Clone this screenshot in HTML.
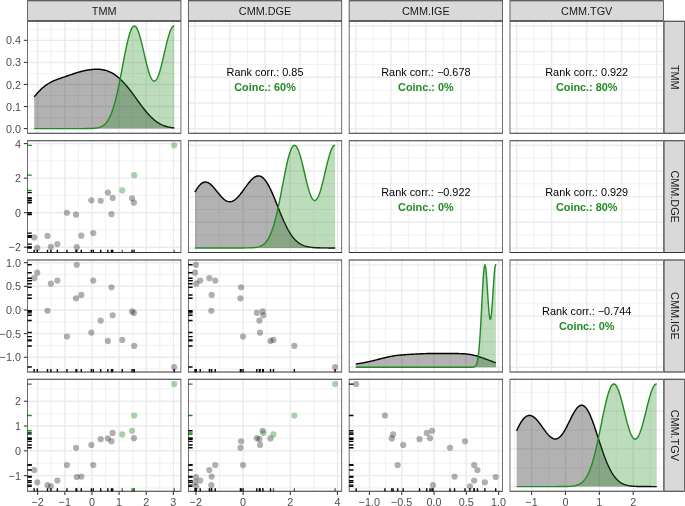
<!DOCTYPE html>
<html><head><meta charset="utf-8"><title>Pairs plot</title>
<style>html,body{margin:0;padding:0;background:#fff;}body{width:685px;height:506px;overflow:hidden;font-family:"Liberation Sans", sans-serif;}svg text{font-family:"Liberation Sans", sans-serif;}</style>
</head><body>
<svg width="685" height="506" viewBox="0 0 685 506" style="display:block;will-change:transform">
<rect x="0" y="0" width="685" height="506" fill="#fff"/>
<defs>
<clipPath id="cp00"><rect x="27.150" y="20.850" width="154.150" height="112.880"/></clipPath>
<clipPath id="cp01"><rect x="187.970" y="20.850" width="154.150" height="112.880"/></clipPath>
<clipPath id="cp02"><rect x="348.790" y="20.850" width="154.150" height="112.880"/></clipPath>
<clipPath id="cp03"><rect x="509.610" y="20.850" width="154.150" height="112.880"/></clipPath>
<clipPath id="cp10"><rect x="27.150" y="140.180" width="154.150" height="112.880"/></clipPath>
<clipPath id="cp11"><rect x="187.970" y="140.180" width="154.150" height="112.880"/></clipPath>
<clipPath id="cp12"><rect x="348.790" y="140.180" width="154.150" height="112.880"/></clipPath>
<clipPath id="cp13"><rect x="509.610" y="140.180" width="154.150" height="112.880"/></clipPath>
<clipPath id="cp20"><rect x="27.150" y="259.510" width="154.150" height="112.880"/></clipPath>
<clipPath id="cp21"><rect x="187.970" y="259.510" width="154.150" height="112.880"/></clipPath>
<clipPath id="cp22"><rect x="348.790" y="259.510" width="154.150" height="112.880"/></clipPath>
<clipPath id="cp23"><rect x="509.610" y="259.510" width="154.150" height="112.880"/></clipPath>
<clipPath id="cp30"><rect x="27.150" y="378.840" width="154.150" height="112.880"/></clipPath>
<clipPath id="cp31"><rect x="187.970" y="378.840" width="154.150" height="112.880"/></clipPath>
<clipPath id="cp32"><rect x="348.790" y="378.840" width="154.150" height="112.880"/></clipPath>
<clipPath id="cp33"><rect x="509.610" y="378.840" width="154.150" height="112.880"/></clipPath>
</defs>
<g clip-path="url(#cp00)">
<path d="M51.26,20.85v112.88M78.39,20.85v112.88M105.52,20.85v112.88M132.65,20.85v112.88M159.78,20.85v112.88M27.15,117.57h154.15M27.15,95.51h154.15M27.15,73.45h154.15M27.15,51.39h154.15M27.15,29.33h154.15" stroke="#EBEBEB" stroke-width="0.71" fill="none"/>
<path d="M37.70,20.85v112.88M64.83,20.85v112.88M91.96,20.85v112.88M119.09,20.85v112.88M146.21,20.85v112.88M173.34,20.85v112.88M27.15,128.60h154.15M27.15,106.54h154.15M27.15,84.48h154.15M27.15,62.42h154.15M27.15,40.36h154.15" stroke="#EBEBEB" stroke-width="1.42" fill="none"/>
<polygon points="34.16,96.90 34.98,95.90 35.80,94.92 36.62,93.97 37.45,93.04 38.27,92.14 39.09,91.27 39.92,90.42 40.74,89.61 41.56,88.83 42.38,88.08 43.21,87.36 44.03,86.68 44.85,86.03 45.67,85.41 46.50,84.83 47.32,84.27 48.14,83.74 48.97,83.24 49.79,82.77 50.61,82.33 51.43,81.90 52.26,81.50 53.08,81.12 53.90,80.75 54.72,80.41 55.55,80.07 56.37,79.75 57.19,79.44 58.02,79.13 58.84,78.84 59.66,78.55 60.48,78.26 61.31,77.98 62.13,77.70 62.95,77.41 63.77,77.13 64.60,76.85 65.42,76.57 66.24,76.29 67.07,76.01 67.89,75.72 68.71,75.44 69.53,75.16 70.36,74.87 71.18,74.59 72.00,74.31 72.82,74.03 73.65,73.75 74.47,73.48 75.29,73.21 76.12,72.94 76.94,72.68 77.76,72.43 78.58,72.18 79.41,71.95 80.23,71.71 81.05,71.49 81.87,71.28 82.70,71.07 83.52,70.88 84.34,70.69 85.17,70.52 85.99,70.35 86.81,70.20 87.63,70.05 88.46,69.92 89.28,69.79 90.10,69.68 90.92,69.58 91.75,69.49 92.57,69.42 93.39,69.35 94.22,69.30 95.04,69.27 95.86,69.25 96.68,69.24 97.51,69.25 98.33,69.27 99.15,69.32 99.97,69.38 100.80,69.46 101.62,69.56 102.44,69.68 103.27,69.83 104.09,70.00 104.91,70.19 105.73,70.41 106.56,70.65 107.38,70.92 108.20,71.22 109.02,71.55 109.85,71.91 110.67,72.30 111.49,72.72 112.32,73.17 113.14,73.65 113.96,74.16 114.78,74.71 115.61,75.28 116.43,75.89 117.25,76.53 118.07,77.20 118.90,77.91 119.72,78.64 120.54,79.41 121.36,80.20 122.19,81.02 123.01,81.88 123.83,82.76 124.66,83.66 125.48,84.60 126.30,85.55 127.12,86.53 127.95,87.54 128.77,88.56 129.59,89.60 130.41,90.67 131.24,91.74 132.06,92.84 132.88,93.94 133.71,95.05 134.53,96.18 135.35,97.31 136.17,98.44 137.00,99.58 137.82,100.71 138.64,101.84 139.46,102.97 140.29,104.09 141.11,105.20 141.93,106.30 142.76,107.38 143.58,108.45 144.40,109.49 145.22,110.52 146.05,111.52 146.87,112.50 147.69,113.45 148.51,114.37 149.34,115.27 150.16,116.13 150.98,116.96 151.81,117.76 152.63,118.52 153.45,119.25 154.27,119.95 155.10,120.61 155.92,121.24 156.74,121.83 157.56,122.39 158.39,122.91 159.21,123.41 160.03,123.87 160.86,124.30 161.68,124.70 162.50,125.07 163.32,125.41 164.15,125.73 164.97,126.02 165.79,126.29 166.61,126.53 167.44,126.75 168.26,126.96 169.08,127.14 169.91,127.31 170.73,127.46 171.55,127.59 172.37,127.72 173.20,127.82 174.02,127.92 174.29,127.95 174.29,128.60 34.16,128.60" fill="#000" fill-opacity="0.3"/>
<polyline points="34.16,96.90 34.98,95.90 35.80,94.92 36.62,93.97 37.45,93.04 38.27,92.14 39.09,91.27 39.92,90.42 40.74,89.61 41.56,88.83 42.38,88.08 43.21,87.36 44.03,86.68 44.85,86.03 45.67,85.41 46.50,84.83 47.32,84.27 48.14,83.74 48.97,83.24 49.79,82.77 50.61,82.33 51.43,81.90 52.26,81.50 53.08,81.12 53.90,80.75 54.72,80.41 55.55,80.07 56.37,79.75 57.19,79.44 58.02,79.13 58.84,78.84 59.66,78.55 60.48,78.26 61.31,77.98 62.13,77.70 62.95,77.41 63.77,77.13 64.60,76.85 65.42,76.57 66.24,76.29 67.07,76.01 67.89,75.72 68.71,75.44 69.53,75.16 70.36,74.87 71.18,74.59 72.00,74.31 72.82,74.03 73.65,73.75 74.47,73.48 75.29,73.21 76.12,72.94 76.94,72.68 77.76,72.43 78.58,72.18 79.41,71.95 80.23,71.71 81.05,71.49 81.87,71.28 82.70,71.07 83.52,70.88 84.34,70.69 85.17,70.52 85.99,70.35 86.81,70.20 87.63,70.05 88.46,69.92 89.28,69.79 90.10,69.68 90.92,69.58 91.75,69.49 92.57,69.42 93.39,69.35 94.22,69.30 95.04,69.27 95.86,69.25 96.68,69.24 97.51,69.25 98.33,69.27 99.15,69.32 99.97,69.38 100.80,69.46 101.62,69.56 102.44,69.68 103.27,69.83 104.09,70.00 104.91,70.19 105.73,70.41 106.56,70.65 107.38,70.92 108.20,71.22 109.02,71.55 109.85,71.91 110.67,72.30 111.49,72.72 112.32,73.17 113.14,73.65 113.96,74.16 114.78,74.71 115.61,75.28 116.43,75.89 117.25,76.53 118.07,77.20 118.90,77.91 119.72,78.64 120.54,79.41 121.36,80.20 122.19,81.02 123.01,81.88 123.83,82.76 124.66,83.66 125.48,84.60 126.30,85.55 127.12,86.53 127.95,87.54 128.77,88.56 129.59,89.60 130.41,90.67 131.24,91.74 132.06,92.84 132.88,93.94 133.71,95.05 134.53,96.18 135.35,97.31 136.17,98.44 137.00,99.58 137.82,100.71 138.64,101.84 139.46,102.97 140.29,104.09 141.11,105.20 141.93,106.30 142.76,107.38 143.58,108.45 144.40,109.49 145.22,110.52 146.05,111.52 146.87,112.50 147.69,113.45 148.51,114.37 149.34,115.27 150.16,116.13 150.98,116.96 151.81,117.76 152.63,118.52 153.45,119.25 154.27,119.95 155.10,120.61 155.92,121.24 156.74,121.83 157.56,122.39 158.39,122.91 159.21,123.41 160.03,123.87 160.86,124.30 161.68,124.70 162.50,125.07 163.32,125.41 164.15,125.73 164.97,126.02 165.79,126.29 166.61,126.53 167.44,126.75 168.26,126.96 169.08,127.14 169.91,127.31 170.73,127.46 171.55,127.59 172.37,127.72 173.20,127.82 174.02,127.92 174.29,127.95" fill="none" stroke="#000" stroke-width="1.42" stroke-linejoin="round"/>
<polygon points="34.16,128.60 34.98,128.60 35.80,128.60 36.62,128.60 37.45,128.60 38.27,128.60 39.09,128.60 39.92,128.60 40.74,128.60 41.56,128.60 42.38,128.60 43.21,128.60 44.03,128.60 44.85,128.60 45.67,128.60 46.50,128.60 47.32,128.60 48.14,128.60 48.97,128.60 49.79,128.60 50.61,128.60 51.43,128.60 52.26,128.60 53.08,128.60 53.90,128.60 54.72,128.60 55.55,128.60 56.37,128.60 57.19,128.60 58.02,128.60 58.84,128.60 59.66,128.60 60.48,128.60 61.31,128.60 62.13,128.60 62.95,128.60 63.77,128.60 64.60,128.60 65.42,128.60 66.24,128.60 67.07,128.60 67.89,128.60 68.71,128.60 69.53,128.60 70.36,128.60 71.18,128.60 72.00,128.60 72.82,128.60 73.65,128.60 74.47,128.60 75.29,128.60 76.12,128.60 76.94,128.60 77.76,128.60 78.58,128.60 79.41,128.60 80.23,128.60 81.05,128.60 81.87,128.59 82.70,128.59 83.52,128.59 84.34,128.59 85.17,128.58 85.99,128.58 86.81,128.57 87.63,128.56 88.46,128.55 89.28,128.54 90.10,128.52 90.92,128.49 91.75,128.46 92.57,128.42 93.39,128.37 94.22,128.30 95.04,128.23 95.86,128.13 96.68,128.01 97.51,127.86 98.33,127.68 99.15,127.46 99.97,127.19 100.80,126.88 101.62,126.50 102.44,126.05 103.27,125.52 104.09,124.89 104.91,124.17 105.73,123.33 106.56,122.36 107.38,121.25 108.20,119.98 109.02,118.54 109.85,116.92 110.67,115.11 111.49,113.10 112.32,110.87 113.14,108.42 113.96,105.75 114.78,102.85 115.61,99.73 116.43,96.39 117.25,92.84 118.07,89.10 118.90,85.18 119.72,81.10 120.54,76.90 121.36,72.61 122.19,68.26 123.01,63.89 123.83,59.55 124.66,55.28 125.48,51.13 126.30,47.15 127.12,43.39 127.95,39.89 128.77,36.70 129.59,33.86 130.41,31.42 131.24,29.40 132.06,27.83 132.88,26.73 133.71,26.12 134.53,26.00 135.35,26.36 136.17,27.21 137.00,28.52 137.82,30.26 138.64,32.40 139.46,34.90 140.29,37.72 141.11,40.81 141.93,44.11 142.76,47.56 143.58,51.11 144.40,54.69 145.22,58.25 146.05,61.72 146.87,65.05 147.69,68.19 148.51,71.08 149.34,73.67 150.16,75.93 150.98,77.82 151.81,79.31 152.63,80.38 153.45,81.01 154.27,81.19 155.10,80.92 155.92,80.21 156.74,79.05 157.56,77.48 158.39,75.51 159.21,73.18 160.03,70.53 160.86,67.59 161.68,64.41 162.50,61.05 163.32,57.56 164.15,53.99 164.97,50.41 165.79,46.87 166.61,43.45 167.44,40.18 168.26,37.14 169.08,34.38 169.91,31.95 170.73,29.88 171.55,28.22 172.37,27.01 173.20,26.25 174.02,25.98 174.29,26.00 174.29,128.60 34.16,128.60" fill="#228B22" fill-opacity="0.3"/>
<polyline points="34.16,128.60 34.98,128.60 35.80,128.60 36.62,128.60 37.45,128.60 38.27,128.60 39.09,128.60 39.92,128.60 40.74,128.60 41.56,128.60 42.38,128.60 43.21,128.60 44.03,128.60 44.85,128.60 45.67,128.60 46.50,128.60 47.32,128.60 48.14,128.60 48.97,128.60 49.79,128.60 50.61,128.60 51.43,128.60 52.26,128.60 53.08,128.60 53.90,128.60 54.72,128.60 55.55,128.60 56.37,128.60 57.19,128.60 58.02,128.60 58.84,128.60 59.66,128.60 60.48,128.60 61.31,128.60 62.13,128.60 62.95,128.60 63.77,128.60 64.60,128.60 65.42,128.60 66.24,128.60 67.07,128.60 67.89,128.60 68.71,128.60 69.53,128.60 70.36,128.60 71.18,128.60 72.00,128.60 72.82,128.60 73.65,128.60 74.47,128.60 75.29,128.60 76.12,128.60 76.94,128.60 77.76,128.60 78.58,128.60 79.41,128.60 80.23,128.60 81.05,128.60 81.87,128.59 82.70,128.59 83.52,128.59 84.34,128.59 85.17,128.58 85.99,128.58 86.81,128.57 87.63,128.56 88.46,128.55 89.28,128.54 90.10,128.52 90.92,128.49 91.75,128.46 92.57,128.42 93.39,128.37 94.22,128.30 95.04,128.23 95.86,128.13 96.68,128.01 97.51,127.86 98.33,127.68 99.15,127.46 99.97,127.19 100.80,126.88 101.62,126.50 102.44,126.05 103.27,125.52 104.09,124.89 104.91,124.17 105.73,123.33 106.56,122.36 107.38,121.25 108.20,119.98 109.02,118.54 109.85,116.92 110.67,115.11 111.49,113.10 112.32,110.87 113.14,108.42 113.96,105.75 114.78,102.85 115.61,99.73 116.43,96.39 117.25,92.84 118.07,89.10 118.90,85.18 119.72,81.10 120.54,76.90 121.36,72.61 122.19,68.26 123.01,63.89 123.83,59.55 124.66,55.28 125.48,51.13 126.30,47.15 127.12,43.39 127.95,39.89 128.77,36.70 129.59,33.86 130.41,31.42 131.24,29.40 132.06,27.83 132.88,26.73 133.71,26.12 134.53,26.00 135.35,26.36 136.17,27.21 137.00,28.52 137.82,30.26 138.64,32.40 139.46,34.90 140.29,37.72 141.11,40.81 141.93,44.11 142.76,47.56 143.58,51.11 144.40,54.69 145.22,58.25 146.05,61.72 146.87,65.05 147.69,68.19 148.51,71.08 149.34,73.67 150.16,75.93 150.98,77.82 151.81,79.31 152.63,80.38 153.45,81.01 154.27,81.19 155.10,80.92 155.92,80.21 156.74,79.05 157.56,77.48 158.39,75.51 159.21,73.18 160.03,70.53 160.86,67.59 161.68,64.41 162.50,61.05 163.32,57.56 164.15,53.99 164.97,50.41 165.79,46.87 166.61,43.45 167.44,40.18 168.26,37.14 169.08,34.38 169.91,31.95 170.73,29.88 171.55,28.22 172.37,27.01 173.20,26.25 174.02,25.98 174.29,26.00" fill="none" stroke="#228B22" stroke-width="1.42" stroke-linejoin="round"/>
</g>
<path d="M27.15,20.85h154.15v112.88h-154.15z M27.86,21.80v110.98h152.73v-110.98z" fill="#333333" fill-rule="evenodd"/>
<g clip-path="url(#cp01)">
<path d="M212.49,20.85v112.88M247.53,20.85v112.88M282.56,20.85v112.88M317.60,20.85v112.88M187.97,115.77h154.15M187.97,90.12h154.15M187.97,64.46h154.15M187.97,38.81h154.15" stroke="#EBEBEB" stroke-width="0.71" fill="none"/>
<path d="M194.98,20.85v112.88M230.01,20.85v112.88M265.04,20.85v112.88M300.08,20.85v112.88M335.11,20.85v112.88M187.97,128.60h154.15M187.97,102.94h154.15M187.97,77.29h154.15M187.97,51.64h154.15M187.97,25.98h154.15" stroke="#EBEBEB" stroke-width="1.42" fill="none"/>
</g>
<path d="M187.97,20.85h154.15v112.88h-154.15z M188.68,21.80v110.98h152.73v-110.98z" fill="#333333" fill-rule="evenodd"/>
<g clip-path="url(#cp02)">
<path d="M373.31,20.85v112.88M408.35,20.85v112.88M443.38,20.85v112.88M478.42,20.85v112.88M348.79,115.77h154.15M348.79,90.12h154.15M348.79,64.46h154.15M348.79,38.81h154.15" stroke="#EBEBEB" stroke-width="0.71" fill="none"/>
<path d="M355.80,20.85v112.88M390.83,20.85v112.88M425.86,20.85v112.88M460.90,20.85v112.88M495.93,20.85v112.88M348.79,128.60h154.15M348.79,102.94h154.15M348.79,77.29h154.15M348.79,51.64h154.15M348.79,25.98h154.15" stroke="#EBEBEB" stroke-width="1.42" fill="none"/>
</g>
<path d="M348.79,20.85h154.15v112.88h-154.15z M349.50,21.80v110.98h152.73v-110.98z" fill="#333333" fill-rule="evenodd"/>
<g clip-path="url(#cp03)">
<path d="M534.13,20.85v112.88M569.17,20.85v112.88M604.20,20.85v112.88M639.24,20.85v112.88M509.61,115.77h154.15M509.61,90.12h154.15M509.61,64.46h154.15M509.61,38.81h154.15" stroke="#EBEBEB" stroke-width="0.71" fill="none"/>
<path d="M516.62,20.85v112.88M551.65,20.85v112.88M586.68,20.85v112.88M621.72,20.85v112.88M656.75,20.85v112.88M509.61,128.60h154.15M509.61,102.94h154.15M509.61,77.29h154.15M509.61,51.64h154.15M509.61,25.98h154.15" stroke="#EBEBEB" stroke-width="1.42" fill="none"/>
</g>
<path d="M509.61,20.85h154.15v112.88h-154.15z M510.32,21.80v110.98h152.73v-110.98z" fill="#333333" fill-rule="evenodd"/>
<g clip-path="url(#cp10)">
<path d="M51.26,140.18v112.88M78.39,140.18v112.88M105.52,140.18v112.88M132.65,140.18v112.88M159.78,140.18v112.88M27.15,229.96h154.15M27.15,195.41h154.15M27.15,160.86h154.15" stroke="#EBEBEB" stroke-width="0.71" fill="none"/>
<path d="M37.70,140.18v112.88M64.83,140.18v112.88M91.96,140.18v112.88M119.09,140.18v112.88M146.21,140.18v112.88M173.34,140.18v112.88M27.15,247.23h154.15M27.15,212.68h154.15M27.15,178.14h154.15M27.15,143.59h154.15" stroke="#EBEBEB" stroke-width="1.42" fill="none"/>
<circle cx="34.16" cy="237.39" r="3.1" fill="#000" fill-opacity="0.31"/>
<circle cx="37.24" cy="247.93" r="3.1" fill="#000" fill-opacity="0.31"/>
<circle cx="47.53" cy="235.96" r="3.1" fill="#000" fill-opacity="0.31"/>
<circle cx="50.88" cy="246.97" r="3.1" fill="#000" fill-opacity="0.31"/>
<circle cx="57.35" cy="244.10" r="3.1" fill="#000" fill-opacity="0.31"/>
<circle cx="66.93" cy="212.73" r="3.1" fill="#000" fill-opacity="0.31"/>
<circle cx="76.02" cy="214.65" r="3.1" fill="#000" fill-opacity="0.31"/>
<circle cx="76.74" cy="247.21" r="3.1" fill="#000" fill-opacity="0.31"/>
<circle cx="81.29" cy="235.72" r="3.1" fill="#000" fill-opacity="0.31"/>
<circle cx="91.35" cy="200.28" r="3.1" fill="#000" fill-opacity="0.31"/>
<circle cx="93.26" cy="233.08" r="3.1" fill="#000" fill-opacity="0.31"/>
<circle cx="100.68" cy="200.76" r="3.1" fill="#000" fill-opacity="0.31"/>
<circle cx="107.87" cy="192.62" r="3.1" fill="#000" fill-opacity="0.31"/>
<circle cx="111.46" cy="214.17" r="3.1" fill="#000" fill-opacity="0.31"/>
<circle cx="112.65" cy="197.89" r="3.1" fill="#000" fill-opacity="0.31"/>
<circle cx="132.05" cy="198.37" r="3.1" fill="#000" fill-opacity="0.31"/>
<circle cx="133.96" cy="202.68" r="3.1" fill="#000" fill-opacity="0.31"/>
<circle cx="122.23" cy="190.47" r="3.1" fill="#228B22" fill-opacity="0.4"/>
<circle cx="134.20" cy="175.14" r="3.1" fill="#228B22" fill-opacity="0.4"/>
<circle cx="174.18" cy="145.34" r="3.1" fill="#228B22" fill-opacity="0.4"/>
<g stroke="#000" stroke-width="1.4" fill="none"><path d="M34.16,253.06v-3.39"/><path d="M27.15,237.39h4.62"/><path d="M37.24,253.06v-3.39"/><path d="M27.15,247.93h4.62"/><path d="M47.53,253.06v-3.39"/><path d="M27.15,235.96h4.62"/><path d="M50.88,253.06v-3.39"/><path d="M27.15,246.97h4.62"/><path d="M57.35,253.06v-3.39"/><path d="M27.15,244.10h4.62"/><path d="M66.93,253.06v-3.39"/><path d="M27.15,212.73h4.62"/><path d="M76.02,253.06v-3.39"/><path d="M27.15,214.65h4.62"/><path d="M76.74,253.06v-3.39"/><path d="M27.15,247.21h4.62"/><path d="M81.29,253.06v-3.39"/><path d="M27.15,235.72h4.62"/><path d="M91.35,253.06v-3.39"/><path d="M27.15,200.28h4.62"/><path d="M93.26,253.06v-3.39"/><path d="M27.15,233.08h4.62"/><path d="M100.68,253.06v-3.39"/><path d="M27.15,200.76h4.62"/><path d="M107.87,253.06v-3.39"/><path d="M27.15,192.62h4.62"/><path d="M111.46,253.06v-3.39"/><path d="M27.15,214.17h4.62"/><path d="M112.65,253.06v-3.39"/><path d="M27.15,197.89h4.62"/><path d="M132.05,253.06v-3.39"/><path d="M27.15,198.37h4.62"/><path d="M133.96,253.06v-3.39"/><path d="M27.15,202.68h4.62"/></g>
<g stroke="#228B22" stroke-width="1.4" fill="none"><path d="M122.23,253.06v-3.39"/><path d="M27.15,190.47h4.62"/><path d="M134.20,253.06v-3.39"/><path d="M27.15,175.14h4.62"/><path d="M174.18,253.06v-3.39"/><path d="M27.15,145.34h4.62"/></g>
</g>
<path d="M27.15,140.18h154.15v112.88h-154.15z M27.86,141.13v110.98h152.73v-110.98z" fill="#333333" fill-rule="evenodd"/>
<g clip-path="url(#cp11)">
<path d="M219.52,140.18v112.88M266.70,140.18v112.88M313.88,140.18v112.88M187.97,235.10h154.15M187.97,209.44h154.15M187.97,183.78h154.15M187.97,158.12h154.15" stroke="#EBEBEB" stroke-width="0.71" fill="none"/>
<path d="M195.93,140.18v112.88M243.11,140.18v112.88M290.29,140.18v112.88M337.47,140.18v112.88M187.97,247.93h154.15M187.97,222.27h154.15M187.97,196.61h154.15M187.97,170.95h154.15M187.97,145.29h154.15" stroke="#EBEBEB" stroke-width="1.42" fill="none"/>
<polygon points="194.98,192.18 195.80,190.71 196.62,189.33 197.44,188.06 198.27,186.90 199.09,185.86 199.91,184.93 200.74,184.13 201.56,183.46 202.38,182.92 203.20,182.51 204.03,182.23 204.85,182.08 205.67,182.06 206.49,182.17 207.32,182.39 208.14,182.73 208.96,183.18 209.79,183.73 210.61,184.37 211.43,185.10 212.25,185.91 213.08,186.78 213.90,187.71 214.72,188.68 215.54,189.69 216.37,190.71 217.19,191.75 218.01,192.78 218.84,193.81 219.66,194.80 220.48,195.77 221.30,196.69 222.13,197.55 222.95,198.35 223.77,199.08 224.59,199.74 225.42,200.30 226.24,200.78 227.06,201.16 227.89,201.44 228.71,201.63 229.53,201.71 230.35,201.68 231.18,201.56 232.00,201.33 232.82,201.00 233.64,200.58 234.47,200.07 235.29,199.46 236.11,198.78 236.94,198.02 237.76,197.18 238.58,196.29 239.40,195.33 240.23,194.33 241.05,193.28 241.87,192.20 242.69,191.09 243.52,189.96 244.34,188.82 245.16,187.68 245.99,186.55 246.81,185.43 247.63,184.34 248.45,183.27 249.28,182.25 250.10,181.28 250.92,180.36 251.74,179.51 252.57,178.73 253.39,178.04 254.21,177.43 255.04,176.91 255.86,176.50 256.68,176.19 257.50,176.00 258.33,175.92 259.15,175.96 259.97,176.13 260.79,176.43 261.62,176.85 262.44,177.41 263.26,178.09 264.09,178.90 264.91,179.84 265.73,180.91 266.55,182.09 267.38,183.39 268.20,184.79 269.02,186.30 269.84,187.91 270.67,189.60 271.49,191.38 272.31,193.22 273.14,195.13 273.96,197.09 274.78,199.09 275.60,201.12 276.43,203.18 277.25,205.25 278.07,207.32 278.89,209.38 279.72,211.44 280.54,213.46 281.36,215.46 282.18,217.42 283.01,219.33 283.83,221.19 284.65,222.99 285.48,224.73 286.30,226.40 287.12,228.01 287.94,229.54 288.77,231.00 289.59,232.39 290.41,233.69 291.23,234.93 292.06,236.09 292.88,237.17 293.70,238.18 294.53,239.12 295.35,239.99 296.17,240.79 296.99,241.53 297.82,242.21 298.64,242.83 299.46,243.40 300.28,243.91 301.11,244.38 301.93,244.80 302.75,245.18 303.58,245.52 304.40,245.82 305.22,246.09 306.04,246.33 306.87,246.54 307.69,246.73 308.51,246.90 309.33,247.04 310.16,247.17 310.98,247.28 311.80,247.37 312.63,247.46 313.45,247.53 314.27,247.59 315.09,247.65 315.92,247.69 316.74,247.73 317.56,247.76 318.38,247.79 319.21,247.81 320.03,247.83 320.85,247.85 321.68,247.86 322.50,247.88 323.32,247.89 324.14,247.89 324.97,247.90 325.79,247.91 326.61,247.91 327.43,247.91 328.26,247.92 329.08,247.92 329.90,247.92 330.73,247.92 331.55,247.92 332.37,247.93 333.19,247.93 334.02,247.93 334.84,247.93 335.11,247.93 335.11,247.93 194.98,247.93" fill="#000" fill-opacity="0.3"/>
<polyline points="194.98,192.18 195.80,190.71 196.62,189.33 197.44,188.06 198.27,186.90 199.09,185.86 199.91,184.93 200.74,184.13 201.56,183.46 202.38,182.92 203.20,182.51 204.03,182.23 204.85,182.08 205.67,182.06 206.49,182.17 207.32,182.39 208.14,182.73 208.96,183.18 209.79,183.73 210.61,184.37 211.43,185.10 212.25,185.91 213.08,186.78 213.90,187.71 214.72,188.68 215.54,189.69 216.37,190.71 217.19,191.75 218.01,192.78 218.84,193.81 219.66,194.80 220.48,195.77 221.30,196.69 222.13,197.55 222.95,198.35 223.77,199.08 224.59,199.74 225.42,200.30 226.24,200.78 227.06,201.16 227.89,201.44 228.71,201.63 229.53,201.71 230.35,201.68 231.18,201.56 232.00,201.33 232.82,201.00 233.64,200.58 234.47,200.07 235.29,199.46 236.11,198.78 236.94,198.02 237.76,197.18 238.58,196.29 239.40,195.33 240.23,194.33 241.05,193.28 241.87,192.20 242.69,191.09 243.52,189.96 244.34,188.82 245.16,187.68 245.99,186.55 246.81,185.43 247.63,184.34 248.45,183.27 249.28,182.25 250.10,181.28 250.92,180.36 251.74,179.51 252.57,178.73 253.39,178.04 254.21,177.43 255.04,176.91 255.86,176.50 256.68,176.19 257.50,176.00 258.33,175.92 259.15,175.96 259.97,176.13 260.79,176.43 261.62,176.85 262.44,177.41 263.26,178.09 264.09,178.90 264.91,179.84 265.73,180.91 266.55,182.09 267.38,183.39 268.20,184.79 269.02,186.30 269.84,187.91 270.67,189.60 271.49,191.38 272.31,193.22 273.14,195.13 273.96,197.09 274.78,199.09 275.60,201.12 276.43,203.18 277.25,205.25 278.07,207.32 278.89,209.38 279.72,211.44 280.54,213.46 281.36,215.46 282.18,217.42 283.01,219.33 283.83,221.19 284.65,222.99 285.48,224.73 286.30,226.40 287.12,228.01 287.94,229.54 288.77,231.00 289.59,232.39 290.41,233.69 291.23,234.93 292.06,236.09 292.88,237.17 293.70,238.18 294.53,239.12 295.35,239.99 296.17,240.79 296.99,241.53 297.82,242.21 298.64,242.83 299.46,243.40 300.28,243.91 301.11,244.38 301.93,244.80 302.75,245.18 303.58,245.52 304.40,245.82 305.22,246.09 306.04,246.33 306.87,246.54 307.69,246.73 308.51,246.90 309.33,247.04 310.16,247.17 310.98,247.28 311.80,247.37 312.63,247.46 313.45,247.53 314.27,247.59 315.09,247.65 315.92,247.69 316.74,247.73 317.56,247.76 318.38,247.79 319.21,247.81 320.03,247.83 320.85,247.85 321.68,247.86 322.50,247.88 323.32,247.89 324.14,247.89 324.97,247.90 325.79,247.91 326.61,247.91 327.43,247.91 328.26,247.92 329.08,247.92 329.90,247.92 330.73,247.92 331.55,247.92 332.37,247.93 333.19,247.93 334.02,247.93 334.84,247.93 335.11,247.93" fill="none" stroke="#000" stroke-width="1.42" stroke-linejoin="round"/>
<polygon points="194.98,247.93 195.80,247.93 196.62,247.93 197.44,247.93 198.27,247.93 199.09,247.93 199.91,247.93 200.74,247.93 201.56,247.93 202.38,247.93 203.20,247.93 204.03,247.93 204.85,247.93 205.67,247.93 206.49,247.93 207.32,247.93 208.14,247.93 208.96,247.93 209.79,247.93 210.61,247.93 211.43,247.93 212.25,247.93 213.08,247.93 213.90,247.93 214.72,247.93 215.54,247.93 216.37,247.93 217.19,247.93 218.01,247.93 218.84,247.93 219.66,247.93 220.48,247.93 221.30,247.93 222.13,247.93 222.95,247.93 223.77,247.93 224.59,247.93 225.42,247.93 226.24,247.93 227.06,247.93 227.89,247.93 228.71,247.93 229.53,247.93 230.35,247.93 231.18,247.93 232.00,247.93 232.82,247.93 233.64,247.93 234.47,247.93 235.29,247.93 236.11,247.93 236.94,247.93 237.76,247.93 238.58,247.93 239.40,247.93 240.23,247.93 241.05,247.92 241.87,247.92 242.69,247.92 243.52,247.92 244.34,247.91 245.16,247.91 245.99,247.90 246.81,247.89 247.63,247.88 248.45,247.87 249.28,247.85 250.10,247.83 250.92,247.80 251.74,247.76 252.57,247.72 253.39,247.66 254.21,247.58 255.04,247.50 255.86,247.39 256.68,247.25 257.50,247.09 258.33,246.89 259.15,246.65 259.97,246.36 260.79,246.02 261.62,245.61 262.44,245.13 263.26,244.57 264.09,243.92 264.91,243.16 265.73,242.28 266.55,241.27 267.38,240.12 268.20,238.82 269.02,237.35 269.84,235.70 270.67,233.86 271.49,231.82 272.31,229.57 273.14,227.11 273.96,224.44 274.78,221.54 275.60,218.43 276.43,215.11 277.25,211.59 278.07,207.89 278.89,204.01 279.72,200.00 280.54,195.86 281.36,191.64 282.18,187.36 283.01,183.07 283.83,178.81 284.65,174.61 285.48,170.54 286.30,166.62 287.12,162.91 287.94,159.46 288.77,156.30 289.59,153.48 290.41,151.03 291.23,148.99 292.06,147.38 292.88,146.22 293.70,145.53 294.53,145.31 295.35,145.57 296.17,146.28 296.99,147.45 297.82,149.05 298.64,151.04 299.46,153.39 300.28,156.07 301.11,159.01 301.93,162.19 302.75,165.53 303.58,168.98 304.40,172.49 305.22,176.01 306.04,179.46 306.87,182.81 307.69,185.99 308.51,188.95 309.33,191.66 310.16,194.06 310.98,196.12 311.80,197.82 312.63,199.12 313.45,200.00 314.27,200.46 315.09,200.48 315.92,200.07 316.74,199.23 317.56,197.97 318.38,196.31 319.21,194.29 320.03,191.92 320.85,189.24 321.68,186.30 322.50,183.14 323.32,179.81 324.14,176.37 324.97,172.86 325.79,169.34 326.61,165.88 327.43,162.52 328.26,159.33 329.08,156.36 329.90,153.65 330.73,151.27 331.55,149.23 332.37,147.60 333.19,146.38 334.02,145.62 334.84,145.32 335.11,145.32 335.11,247.93 194.98,247.93" fill="#228B22" fill-opacity="0.3"/>
<polyline points="194.98,247.93 195.80,247.93 196.62,247.93 197.44,247.93 198.27,247.93 199.09,247.93 199.91,247.93 200.74,247.93 201.56,247.93 202.38,247.93 203.20,247.93 204.03,247.93 204.85,247.93 205.67,247.93 206.49,247.93 207.32,247.93 208.14,247.93 208.96,247.93 209.79,247.93 210.61,247.93 211.43,247.93 212.25,247.93 213.08,247.93 213.90,247.93 214.72,247.93 215.54,247.93 216.37,247.93 217.19,247.93 218.01,247.93 218.84,247.93 219.66,247.93 220.48,247.93 221.30,247.93 222.13,247.93 222.95,247.93 223.77,247.93 224.59,247.93 225.42,247.93 226.24,247.93 227.06,247.93 227.89,247.93 228.71,247.93 229.53,247.93 230.35,247.93 231.18,247.93 232.00,247.93 232.82,247.93 233.64,247.93 234.47,247.93 235.29,247.93 236.11,247.93 236.94,247.93 237.76,247.93 238.58,247.93 239.40,247.93 240.23,247.93 241.05,247.92 241.87,247.92 242.69,247.92 243.52,247.92 244.34,247.91 245.16,247.91 245.99,247.90 246.81,247.89 247.63,247.88 248.45,247.87 249.28,247.85 250.10,247.83 250.92,247.80 251.74,247.76 252.57,247.72 253.39,247.66 254.21,247.58 255.04,247.50 255.86,247.39 256.68,247.25 257.50,247.09 258.33,246.89 259.15,246.65 259.97,246.36 260.79,246.02 261.62,245.61 262.44,245.13 263.26,244.57 264.09,243.92 264.91,243.16 265.73,242.28 266.55,241.27 267.38,240.12 268.20,238.82 269.02,237.35 269.84,235.70 270.67,233.86 271.49,231.82 272.31,229.57 273.14,227.11 273.96,224.44 274.78,221.54 275.60,218.43 276.43,215.11 277.25,211.59 278.07,207.89 278.89,204.01 279.72,200.00 280.54,195.86 281.36,191.64 282.18,187.36 283.01,183.07 283.83,178.81 284.65,174.61 285.48,170.54 286.30,166.62 287.12,162.91 287.94,159.46 288.77,156.30 289.59,153.48 290.41,151.03 291.23,148.99 292.06,147.38 292.88,146.22 293.70,145.53 294.53,145.31 295.35,145.57 296.17,146.28 296.99,147.45 297.82,149.05 298.64,151.04 299.46,153.39 300.28,156.07 301.11,159.01 301.93,162.19 302.75,165.53 303.58,168.98 304.40,172.49 305.22,176.01 306.04,179.46 306.87,182.81 307.69,185.99 308.51,188.95 309.33,191.66 310.16,194.06 310.98,196.12 311.80,197.82 312.63,199.12 313.45,200.00 314.27,200.46 315.09,200.48 315.92,200.07 316.74,199.23 317.56,197.97 318.38,196.31 319.21,194.29 320.03,191.92 320.85,189.24 321.68,186.30 322.50,183.14 323.32,179.81 324.14,176.37 324.97,172.86 325.79,169.34 326.61,165.88 327.43,162.52 328.26,159.33 329.08,156.36 329.90,153.65 330.73,151.27 331.55,149.23 332.37,147.60 333.19,146.38 334.02,145.62 334.84,145.32 335.11,145.32" fill="none" stroke="#228B22" stroke-width="1.42" stroke-linejoin="round"/>
</g>
<path d="M187.97,140.18h154.15v112.88h-154.15z M188.68,141.13v110.98h152.73v-110.98z" fill="#333333" fill-rule="evenodd"/>
<g clip-path="url(#cp12)">
<path d="M373.31,140.18v112.88M408.35,140.18v112.88M443.38,140.18v112.88M478.42,140.18v112.88M348.79,235.10h154.15M348.79,209.45h154.15M348.79,183.79h154.15M348.79,158.14h154.15" stroke="#EBEBEB" stroke-width="0.71" fill="none"/>
<path d="M355.80,140.18v112.88M390.83,140.18v112.88M425.86,140.18v112.88M460.90,140.18v112.88M495.93,140.18v112.88M348.79,247.93h154.15M348.79,222.27h154.15M348.79,196.62h154.15M348.79,170.97h154.15M348.79,145.31h154.15" stroke="#EBEBEB" stroke-width="1.42" fill="none"/>
</g>
<path d="M348.79,140.18h154.15v112.88h-154.15z M349.50,141.13v110.98h152.73v-110.98z" fill="#333333" fill-rule="evenodd"/>
<g clip-path="url(#cp13)">
<path d="M534.13,140.18v112.88M569.17,140.18v112.88M604.20,140.18v112.88M639.24,140.18v112.88M509.61,235.10h154.15M509.61,209.45h154.15M509.61,183.79h154.15M509.61,158.14h154.15" stroke="#EBEBEB" stroke-width="0.71" fill="none"/>
<path d="M516.62,140.18v112.88M551.65,140.18v112.88M586.68,140.18v112.88M621.72,140.18v112.88M656.75,140.18v112.88M509.61,247.93h154.15M509.61,222.27h154.15M509.61,196.62h154.15M509.61,170.97h154.15M509.61,145.31h154.15" stroke="#EBEBEB" stroke-width="1.42" fill="none"/>
</g>
<path d="M509.61,140.18h154.15v112.88h-154.15z M510.32,141.13v110.98h152.73v-110.98z" fill="#333333" fill-rule="evenodd"/>
<g clip-path="url(#cp20)">
<path d="M51.26,259.51v112.88M78.39,259.51v112.88M105.52,259.51v112.88M132.65,259.51v112.88M159.78,259.51v112.88M27.15,369.10h154.15M27.15,345.45h154.15M27.15,321.80h154.15M27.15,298.15h154.15M27.15,274.50h154.15" stroke="#EBEBEB" stroke-width="0.71" fill="none"/>
<path d="M37.70,259.51v112.88M64.83,259.51v112.88M91.96,259.51v112.88M119.09,259.51v112.88M146.21,259.51v112.88M173.34,259.51v112.88M27.15,357.28h154.15M27.15,333.63h154.15M27.15,309.98h154.15M27.15,286.33h154.15M27.15,262.68h154.15" stroke="#EBEBEB" stroke-width="1.42" fill="none"/>
<circle cx="34.16" cy="278.19" r="3.1" fill="#000" fill-opacity="0.31"/>
<circle cx="37.24" cy="272.72" r="3.1" fill="#000" fill-opacity="0.31"/>
<circle cx="47.53" cy="310.75" r="3.1" fill="#000" fill-opacity="0.31"/>
<circle cx="50.88" cy="283.70" r="3.1" fill="#000" fill-opacity="0.31"/>
<circle cx="57.35" cy="280.58" r="3.1" fill="#000" fill-opacity="0.31"/>
<circle cx="66.93" cy="336.61" r="3.1" fill="#000" fill-opacity="0.31"/>
<circle cx="76.02" cy="298.30" r="3.1" fill="#000" fill-opacity="0.31"/>
<circle cx="76.74" cy="264.82" r="3.1" fill="#000" fill-opacity="0.31"/>
<circle cx="81.29" cy="294.95" r="3.1" fill="#000" fill-opacity="0.31"/>
<circle cx="91.35" cy="332.54" r="3.1" fill="#000" fill-opacity="0.31"/>
<circle cx="93.26" cy="280.58" r="3.1" fill="#000" fill-opacity="0.31"/>
<circle cx="100.68" cy="320.57" r="3.1" fill="#000" fill-opacity="0.31"/>
<circle cx="107.87" cy="340.92" r="3.1" fill="#000" fill-opacity="0.31"/>
<circle cx="111.46" cy="287.29" r="3.1" fill="#000" fill-opacity="0.31"/>
<circle cx="112.65" cy="315.30" r="3.1" fill="#000" fill-opacity="0.31"/>
<circle cx="122.23" cy="339.96" r="3.1" fill="#000" fill-opacity="0.31"/>
<circle cx="132.05" cy="311.47" r="3.1" fill="#000" fill-opacity="0.31"/>
<circle cx="133.96" cy="312.90" r="3.1" fill="#000" fill-opacity="0.31"/>
<circle cx="134.20" cy="345.94" r="3.1" fill="#000" fill-opacity="0.31"/>
<circle cx="174.18" cy="367.01" r="3.1" fill="#000" fill-opacity="0.31"/>
<g stroke="#000" stroke-width="1.4" fill="none"><path d="M34.16,372.39v-3.39"/><path d="M27.15,278.19h4.62"/><path d="M37.24,372.39v-3.39"/><path d="M27.15,272.72h4.62"/><path d="M47.53,372.39v-3.39"/><path d="M27.15,310.75h4.62"/><path d="M50.88,372.39v-3.39"/><path d="M27.15,283.70h4.62"/><path d="M57.35,372.39v-3.39"/><path d="M27.15,280.58h4.62"/><path d="M66.93,372.39v-3.39"/><path d="M27.15,336.61h4.62"/><path d="M76.02,372.39v-3.39"/><path d="M27.15,298.30h4.62"/><path d="M76.74,372.39v-3.39"/><path d="M27.15,264.82h4.62"/><path d="M81.29,372.39v-3.39"/><path d="M27.15,294.95h4.62"/><path d="M91.35,372.39v-3.39"/><path d="M27.15,332.54h4.62"/><path d="M93.26,372.39v-3.39"/><path d="M27.15,280.58h4.62"/><path d="M100.68,372.39v-3.39"/><path d="M27.15,320.57h4.62"/><path d="M107.87,372.39v-3.39"/><path d="M27.15,340.92h4.62"/><path d="M111.46,372.39v-3.39"/><path d="M27.15,287.29h4.62"/><path d="M112.65,372.39v-3.39"/><path d="M27.15,315.30h4.62"/><path d="M122.23,372.39v-3.39"/><path d="M27.15,339.96h4.62"/><path d="M132.05,372.39v-3.39"/><path d="M27.15,311.47h4.62"/><path d="M133.96,372.39v-3.39"/><path d="M27.15,312.90h4.62"/><path d="M134.20,372.39v-3.39"/><path d="M27.15,345.94h4.62"/><path d="M174.18,372.39v-3.39"/><path d="M27.15,367.01h4.62"/></g>
</g>
<path d="M27.15,259.51h154.15v112.88h-154.15z M27.86,260.46v110.98h152.73v-110.98z" fill="#333333" fill-rule="evenodd"/>
<g clip-path="url(#cp21)">
<path d="M219.52,259.51v112.88M266.70,259.51v112.88M313.88,259.51v112.88M187.97,369.10h154.15M187.97,345.45h154.15M187.97,321.80h154.15M187.97,298.15h154.15M187.97,274.50h154.15" stroke="#EBEBEB" stroke-width="0.71" fill="none"/>
<path d="M195.93,259.51v112.88M243.11,259.51v112.88M290.29,259.51v112.88M337.47,259.51v112.88M187.97,357.28h154.15M187.97,333.63h154.15M187.97,309.98h154.15M187.97,286.33h154.15M187.97,262.68h154.15" stroke="#EBEBEB" stroke-width="1.42" fill="none"/>
<circle cx="209.37" cy="278.19" r="3.1" fill="#000" fill-opacity="0.31"/>
<circle cx="194.98" cy="272.72" r="3.1" fill="#000" fill-opacity="0.31"/>
<circle cx="211.33" cy="310.75" r="3.1" fill="#000" fill-opacity="0.31"/>
<circle cx="196.29" cy="283.70" r="3.1" fill="#000" fill-opacity="0.31"/>
<circle cx="200.21" cy="280.58" r="3.1" fill="#000" fill-opacity="0.31"/>
<circle cx="243.04" cy="336.61" r="3.1" fill="#000" fill-opacity="0.31"/>
<circle cx="240.43" cy="298.30" r="3.1" fill="#000" fill-opacity="0.31"/>
<circle cx="195.96" cy="264.82" r="3.1" fill="#000" fill-opacity="0.31"/>
<circle cx="211.65" cy="294.95" r="3.1" fill="#000" fill-opacity="0.31"/>
<circle cx="260.04" cy="332.54" r="3.1" fill="#000" fill-opacity="0.31"/>
<circle cx="215.25" cy="280.58" r="3.1" fill="#000" fill-opacity="0.31"/>
<circle cx="259.39" cy="320.57" r="3.1" fill="#000" fill-opacity="0.31"/>
<circle cx="270.50" cy="340.92" r="3.1" fill="#000" fill-opacity="0.31"/>
<circle cx="241.08" cy="287.29" r="3.1" fill="#000" fill-opacity="0.31"/>
<circle cx="263.31" cy="315.30" r="3.1" fill="#000" fill-opacity="0.31"/>
<circle cx="273.45" cy="339.96" r="3.1" fill="#000" fill-opacity="0.31"/>
<circle cx="262.66" cy="311.47" r="3.1" fill="#000" fill-opacity="0.31"/>
<circle cx="256.77" cy="312.90" r="3.1" fill="#000" fill-opacity="0.31"/>
<circle cx="294.37" cy="345.94" r="3.1" fill="#000" fill-opacity="0.31"/>
<circle cx="335.08" cy="367.01" r="3.1" fill="#000" fill-opacity="0.31"/>
<g stroke="#000" stroke-width="1.4" fill="none"><path d="M209.37,372.39v-3.39"/><path d="M187.97,278.19h4.62"/><path d="M194.98,372.39v-3.39"/><path d="M187.97,272.72h4.62"/><path d="M211.33,372.39v-3.39"/><path d="M187.97,310.75h4.62"/><path d="M196.29,372.39v-3.39"/><path d="M187.97,283.70h4.62"/><path d="M200.21,372.39v-3.39"/><path d="M187.97,280.58h4.62"/><path d="M243.04,372.39v-3.39"/><path d="M187.97,336.61h4.62"/><path d="M240.43,372.39v-3.39"/><path d="M187.97,298.30h4.62"/><path d="M195.96,372.39v-3.39"/><path d="M187.97,264.82h4.62"/><path d="M211.65,372.39v-3.39"/><path d="M187.97,294.95h4.62"/><path d="M260.04,372.39v-3.39"/><path d="M187.97,332.54h4.62"/><path d="M215.25,372.39v-3.39"/><path d="M187.97,280.58h4.62"/><path d="M259.39,372.39v-3.39"/><path d="M187.97,320.57h4.62"/><path d="M270.50,372.39v-3.39"/><path d="M187.97,340.92h4.62"/><path d="M241.08,372.39v-3.39"/><path d="M187.97,287.29h4.62"/><path d="M263.31,372.39v-3.39"/><path d="M187.97,315.30h4.62"/><path d="M273.45,372.39v-3.39"/><path d="M187.97,339.96h4.62"/><path d="M262.66,372.39v-3.39"/><path d="M187.97,311.47h4.62"/><path d="M256.77,372.39v-3.39"/><path d="M187.97,312.90h4.62"/><path d="M294.37,372.39v-3.39"/><path d="M187.97,345.94h4.62"/><path d="M335.08,372.39v-3.39"/><path d="M187.97,367.01h4.62"/></g>
</g>
<path d="M187.97,259.51h154.15v112.88h-154.15z M188.68,260.46v110.98h152.73v-110.98z" fill="#333333" fill-rule="evenodd"/>
<g clip-path="url(#cp22)">
<path d="M353.28,259.51v112.88M385.57,259.51v112.88M417.87,259.51v112.88M450.17,259.51v112.88M482.47,259.51v112.88M348.79,354.46h154.15M348.79,328.87h154.15M348.79,303.28h154.15M348.79,277.69h154.15" stroke="#EBEBEB" stroke-width="0.71" fill="none"/>
<path d="M369.43,259.51v112.88M401.72,259.51v112.88M434.02,259.51v112.88M466.32,259.51v112.88M498.61,259.51v112.88M348.79,367.26h154.15M348.79,341.67h154.15M348.79,316.08h154.15M348.79,290.49h154.15M348.79,264.90h154.15" stroke="#EBEBEB" stroke-width="1.42" fill="none"/>
<polygon points="355.80,364.00 356.62,363.89 357.44,363.77 358.26,363.65 359.09,363.53 359.91,363.40 360.73,363.27 361.56,363.13 362.38,362.99 363.20,362.84 364.02,362.69 364.85,362.54 365.67,362.38 366.49,362.21 367.31,362.04 368.14,361.86 368.96,361.68 369.78,361.50 370.61,361.31 371.43,361.12 372.25,360.92 373.07,360.72 373.90,360.51 374.72,360.30 375.54,360.09 376.36,359.88 377.19,359.67 378.01,359.45 378.83,359.24 379.66,359.02 380.48,358.81 381.30,358.60 382.12,358.39 382.95,358.18 383.77,357.97 384.59,357.77 385.41,357.57 386.24,357.38 387.06,357.19 387.88,357.01 388.71,356.83 389.53,356.67 390.35,356.50 391.17,356.35 392.00,356.20 392.82,356.05 393.64,355.92 394.46,355.79 395.29,355.67 396.11,355.55 396.93,355.45 397.76,355.34 398.58,355.25 399.40,355.16 400.22,355.08 401.05,355.00 401.87,354.92 402.69,354.85 403.51,354.79 404.34,354.73 405.16,354.67 405.98,354.61 406.81,354.56 407.63,354.50 408.45,354.45 409.27,354.41 410.10,354.36 410.92,354.31 411.74,354.27 412.56,354.22 413.39,354.17 414.21,354.13 415.03,354.09 415.86,354.04 416.68,354.00 417.50,353.96 418.32,353.92 419.15,353.87 419.97,353.83 420.79,353.80 421.61,353.76 422.44,353.72 423.26,353.69 424.08,353.66 424.91,353.63 425.73,353.60 426.55,353.58 427.37,353.56 428.20,353.54 429.02,353.52 429.84,353.51 430.66,353.50 431.49,353.49 432.31,353.49 433.13,353.49 433.96,353.49 434.78,353.49 435.60,353.49 436.42,353.50 437.25,353.50 438.07,353.51 438.89,353.52 439.71,353.53 440.54,353.54 441.36,353.54 442.18,353.55 443.00,353.56 443.83,353.57 444.65,353.57 445.47,353.58 446.30,353.58 447.12,353.58 447.94,353.58 448.76,353.58 449.59,353.58 450.41,353.58 451.23,353.57 452.05,353.57 452.88,353.57 453.70,353.56 454.52,353.56 455.35,353.56 456.17,353.56 456.99,353.56 457.81,353.57 458.64,353.58 459.46,353.60 460.28,353.62 461.10,353.64 461.93,353.68 462.75,353.72 463.57,353.77 464.40,353.82 465.22,353.89 466.04,353.97 466.86,354.05 467.69,354.15 468.51,354.26 469.33,354.38 470.15,354.52 470.98,354.66 471.80,354.82 472.62,354.99 473.45,355.17 474.27,355.37 475.09,355.57 475.91,355.79 476.74,356.02 477.56,356.26 478.38,356.51 479.20,356.76 480.03,357.03 480.85,357.31 481.67,357.59 482.50,357.88 483.32,358.17 484.14,358.47 484.96,358.77 485.79,359.08 486.61,359.39 487.43,359.70 488.25,360.00 489.08,360.31 489.90,360.62 490.72,360.92 491.55,361.22 492.37,361.52 493.19,361.81 494.01,362.09 494.84,362.37 495.66,362.64 495.93,362.73 495.93,367.26 355.80,367.26" fill="#000" fill-opacity="0.3"/>
<polyline points="355.80,364.00 356.62,363.89 357.44,363.77 358.26,363.65 359.09,363.53 359.91,363.40 360.73,363.27 361.56,363.13 362.38,362.99 363.20,362.84 364.02,362.69 364.85,362.54 365.67,362.38 366.49,362.21 367.31,362.04 368.14,361.86 368.96,361.68 369.78,361.50 370.61,361.31 371.43,361.12 372.25,360.92 373.07,360.72 373.90,360.51 374.72,360.30 375.54,360.09 376.36,359.88 377.19,359.67 378.01,359.45 378.83,359.24 379.66,359.02 380.48,358.81 381.30,358.60 382.12,358.39 382.95,358.18 383.77,357.97 384.59,357.77 385.41,357.57 386.24,357.38 387.06,357.19 387.88,357.01 388.71,356.83 389.53,356.67 390.35,356.50 391.17,356.35 392.00,356.20 392.82,356.05 393.64,355.92 394.46,355.79 395.29,355.67 396.11,355.55 396.93,355.45 397.76,355.34 398.58,355.25 399.40,355.16 400.22,355.08 401.05,355.00 401.87,354.92 402.69,354.85 403.51,354.79 404.34,354.73 405.16,354.67 405.98,354.61 406.81,354.56 407.63,354.50 408.45,354.45 409.27,354.41 410.10,354.36 410.92,354.31 411.74,354.27 412.56,354.22 413.39,354.17 414.21,354.13 415.03,354.09 415.86,354.04 416.68,354.00 417.50,353.96 418.32,353.92 419.15,353.87 419.97,353.83 420.79,353.80 421.61,353.76 422.44,353.72 423.26,353.69 424.08,353.66 424.91,353.63 425.73,353.60 426.55,353.58 427.37,353.56 428.20,353.54 429.02,353.52 429.84,353.51 430.66,353.50 431.49,353.49 432.31,353.49 433.13,353.49 433.96,353.49 434.78,353.49 435.60,353.49 436.42,353.50 437.25,353.50 438.07,353.51 438.89,353.52 439.71,353.53 440.54,353.54 441.36,353.54 442.18,353.55 443.00,353.56 443.83,353.57 444.65,353.57 445.47,353.58 446.30,353.58 447.12,353.58 447.94,353.58 448.76,353.58 449.59,353.58 450.41,353.58 451.23,353.57 452.05,353.57 452.88,353.57 453.70,353.56 454.52,353.56 455.35,353.56 456.17,353.56 456.99,353.56 457.81,353.57 458.64,353.58 459.46,353.60 460.28,353.62 461.10,353.64 461.93,353.68 462.75,353.72 463.57,353.77 464.40,353.82 465.22,353.89 466.04,353.97 466.86,354.05 467.69,354.15 468.51,354.26 469.33,354.38 470.15,354.52 470.98,354.66 471.80,354.82 472.62,354.99 473.45,355.17 474.27,355.37 475.09,355.57 475.91,355.79 476.74,356.02 477.56,356.26 478.38,356.51 479.20,356.76 480.03,357.03 480.85,357.31 481.67,357.59 482.50,357.88 483.32,358.17 484.14,358.47 484.96,358.77 485.79,359.08 486.61,359.39 487.43,359.70 488.25,360.00 489.08,360.31 489.90,360.62 490.72,360.92 491.55,361.22 492.37,361.52 493.19,361.81 494.01,362.09 494.84,362.37 495.66,362.64 495.93,362.73" fill="none" stroke="#000" stroke-width="1.42" stroke-linejoin="round"/>
<polygon points="355.80,367.26 356.62,367.26 357.44,367.26 358.26,367.26 359.09,367.26 359.91,367.26 360.73,367.26 361.56,367.26 362.38,367.26 363.20,367.26 364.02,367.26 364.85,367.26 365.67,367.26 366.49,367.26 367.31,367.26 368.14,367.26 368.96,367.26 369.78,367.26 370.61,367.26 371.43,367.26 372.25,367.26 373.07,367.26 373.90,367.26 374.72,367.26 375.54,367.26 376.36,367.26 377.19,367.26 378.01,367.26 378.83,367.26 379.66,367.26 380.48,367.26 381.30,367.26 382.12,367.26 382.95,367.26 383.77,367.26 384.59,367.26 385.41,367.26 386.24,367.26 387.06,367.26 387.88,367.26 388.71,367.26 389.53,367.26 390.35,367.26 391.17,367.26 392.00,367.26 392.82,367.26 393.64,367.26 394.46,367.26 395.29,367.26 396.11,367.26 396.93,367.26 397.76,367.26 398.58,367.26 399.40,367.26 400.22,367.26 401.05,367.26 401.87,367.26 402.69,367.26 403.51,367.26 404.34,367.26 405.16,367.26 405.98,367.26 406.81,367.26 407.63,367.26 408.45,367.26 409.27,367.26 410.10,367.26 410.92,367.26 411.74,367.26 412.56,367.26 413.39,367.26 414.21,367.26 415.03,367.26 415.86,367.26 416.68,367.26 417.50,367.26 418.32,367.26 419.15,367.26 419.97,367.26 420.79,367.26 421.61,367.26 422.44,367.26 423.26,367.26 424.08,367.26 424.91,367.26 425.73,367.26 426.55,367.26 427.37,367.26 428.20,367.26 429.02,367.26 429.84,367.26 430.66,367.26 431.49,367.26 432.31,367.26 433.13,367.26 433.96,367.26 434.78,367.26 435.60,367.26 436.42,367.26 437.25,367.26 438.07,367.26 438.89,367.26 439.71,367.26 440.54,367.26 441.36,367.26 442.18,367.26 443.00,367.26 443.83,367.26 444.65,367.26 445.47,367.26 446.30,367.26 447.12,367.26 447.94,367.26 448.76,367.26 449.59,367.26 450.41,367.26 451.23,367.26 452.05,367.26 452.88,367.26 453.70,367.26 454.52,367.26 455.35,367.26 456.17,367.26 456.99,367.26 457.81,367.26 458.64,367.26 459.46,367.26 460.28,367.26 461.10,367.26 461.93,367.26 462.75,367.26 463.57,367.26 464.40,367.26 465.22,367.26 466.04,367.26 466.86,367.26 467.69,367.26 468.51,367.26 469.33,367.26 470.15,367.26 470.98,367.25 471.80,367.24 472.62,367.21 473.45,367.12 474.27,366.91 475.09,366.45 475.91,365.50 476.74,363.68 477.56,360.46 478.38,355.20 479.20,347.27 480.03,336.30 480.85,322.47 481.67,306.72 482.50,290.81 483.32,277.05 484.14,267.77 484.96,264.64 485.79,268.12 486.61,277.22 487.43,289.72 488.25,302.70 489.08,313.27 489.90,319.13 490.72,319.04 491.55,313.02 492.37,302.35 493.19,289.33 494.01,276.90 494.84,267.94 495.66,264.64 495.93,265.01 495.93,367.26 355.80,367.26" fill="#228B22" fill-opacity="0.3"/>
<polyline points="355.80,367.26 356.62,367.26 357.44,367.26 358.26,367.26 359.09,367.26 359.91,367.26 360.73,367.26 361.56,367.26 362.38,367.26 363.20,367.26 364.02,367.26 364.85,367.26 365.67,367.26 366.49,367.26 367.31,367.26 368.14,367.26 368.96,367.26 369.78,367.26 370.61,367.26 371.43,367.26 372.25,367.26 373.07,367.26 373.90,367.26 374.72,367.26 375.54,367.26 376.36,367.26 377.19,367.26 378.01,367.26 378.83,367.26 379.66,367.26 380.48,367.26 381.30,367.26 382.12,367.26 382.95,367.26 383.77,367.26 384.59,367.26 385.41,367.26 386.24,367.26 387.06,367.26 387.88,367.26 388.71,367.26 389.53,367.26 390.35,367.26 391.17,367.26 392.00,367.26 392.82,367.26 393.64,367.26 394.46,367.26 395.29,367.26 396.11,367.26 396.93,367.26 397.76,367.26 398.58,367.26 399.40,367.26 400.22,367.26 401.05,367.26 401.87,367.26 402.69,367.26 403.51,367.26 404.34,367.26 405.16,367.26 405.98,367.26 406.81,367.26 407.63,367.26 408.45,367.26 409.27,367.26 410.10,367.26 410.92,367.26 411.74,367.26 412.56,367.26 413.39,367.26 414.21,367.26 415.03,367.26 415.86,367.26 416.68,367.26 417.50,367.26 418.32,367.26 419.15,367.26 419.97,367.26 420.79,367.26 421.61,367.26 422.44,367.26 423.26,367.26 424.08,367.26 424.91,367.26 425.73,367.26 426.55,367.26 427.37,367.26 428.20,367.26 429.02,367.26 429.84,367.26 430.66,367.26 431.49,367.26 432.31,367.26 433.13,367.26 433.96,367.26 434.78,367.26 435.60,367.26 436.42,367.26 437.25,367.26 438.07,367.26 438.89,367.26 439.71,367.26 440.54,367.26 441.36,367.26 442.18,367.26 443.00,367.26 443.83,367.26 444.65,367.26 445.47,367.26 446.30,367.26 447.12,367.26 447.94,367.26 448.76,367.26 449.59,367.26 450.41,367.26 451.23,367.26 452.05,367.26 452.88,367.26 453.70,367.26 454.52,367.26 455.35,367.26 456.17,367.26 456.99,367.26 457.81,367.26 458.64,367.26 459.46,367.26 460.28,367.26 461.10,367.26 461.93,367.26 462.75,367.26 463.57,367.26 464.40,367.26 465.22,367.26 466.04,367.26 466.86,367.26 467.69,367.26 468.51,367.26 469.33,367.26 470.15,367.26 470.98,367.25 471.80,367.24 472.62,367.21 473.45,367.12 474.27,366.91 475.09,366.45 475.91,365.50 476.74,363.68 477.56,360.46 478.38,355.20 479.20,347.27 480.03,336.30 480.85,322.47 481.67,306.72 482.50,290.81 483.32,277.05 484.14,267.77 484.96,264.64 485.79,268.12 486.61,277.22 487.43,289.72 488.25,302.70 489.08,313.27 489.90,319.13 490.72,319.04 491.55,313.02 492.37,302.35 493.19,289.33 494.01,276.90 494.84,267.94 495.66,264.64 495.93,265.01" fill="none" stroke="#228B22" stroke-width="1.42" stroke-linejoin="round"/>
</g>
<path d="M348.79,259.51h154.15v112.88h-154.15z M349.50,260.46v110.98h152.73v-110.98z" fill="#333333" fill-rule="evenodd"/>
<g clip-path="url(#cp23)">
<path d="M534.13,259.51v112.88M569.17,259.51v112.88M604.20,259.51v112.88M639.24,259.51v112.88M509.61,354.43h154.15M509.61,328.78h154.15M509.61,303.12h154.15M509.61,277.47h154.15" stroke="#EBEBEB" stroke-width="0.71" fill="none"/>
<path d="M516.62,259.51v112.88M551.65,259.51v112.88M586.68,259.51v112.88M621.72,259.51v112.88M656.75,259.51v112.88M509.61,367.26h154.15M509.61,341.60h154.15M509.61,315.95h154.15M509.61,290.30h154.15M509.61,264.64h154.15" stroke="#EBEBEB" stroke-width="1.42" fill="none"/>
</g>
<path d="M509.61,259.51h154.15v112.88h-154.15z M510.32,260.46v110.98h152.73v-110.98z" fill="#333333" fill-rule="evenodd"/>
<g clip-path="url(#cp30)">
<path d="M51.26,378.84v112.88M78.39,378.84v112.88M105.52,378.84v112.88M132.65,378.84v112.88M159.78,378.84v112.88M27.15,488.03h154.15M27.15,463.23h154.15M27.15,438.43h154.15M27.15,413.63h154.15M27.15,388.83h154.15" stroke="#EBEBEB" stroke-width="0.71" fill="none"/>
<path d="M37.70,378.84v112.88M64.83,378.84v112.88M91.96,378.84v112.88M119.09,378.84v112.88M146.21,378.84v112.88M173.34,378.84v112.88M27.15,475.63h154.15M27.15,450.83h154.15M27.15,426.03h154.15M27.15,401.23h154.15" stroke="#EBEBEB" stroke-width="1.42" fill="none"/>
<circle cx="34.16" cy="470.07" r="3.1" fill="#000" fill-opacity="0.31"/>
<circle cx="37.24" cy="482.28" r="3.1" fill="#000" fill-opacity="0.31"/>
<circle cx="47.53" cy="485.15" r="3.1" fill="#000" fill-opacity="0.31"/>
<circle cx="50.88" cy="486.35" r="3.1" fill="#000" fill-opacity="0.31"/>
<circle cx="57.35" cy="480.60" r="3.1" fill="#000" fill-opacity="0.31"/>
<circle cx="66.93" cy="465.04" r="3.1" fill="#000" fill-opacity="0.31"/>
<circle cx="76.02" cy="447.80" r="3.1" fill="#000" fill-opacity="0.31"/>
<circle cx="76.74" cy="477.01" r="3.1" fill="#000" fill-opacity="0.31"/>
<circle cx="81.29" cy="476.53" r="3.1" fill="#000" fill-opacity="0.31"/>
<circle cx="91.35" cy="444.93" r="3.1" fill="#000" fill-opacity="0.31"/>
<circle cx="93.26" cy="465.04" r="3.1" fill="#000" fill-opacity="0.31"/>
<circle cx="100.68" cy="439.18" r="3.1" fill="#000" fill-opacity="0.31"/>
<circle cx="107.87" cy="438.46" r="3.1" fill="#000" fill-opacity="0.31"/>
<circle cx="111.46" cy="441.34" r="3.1" fill="#000" fill-opacity="0.31"/>
<circle cx="112.65" cy="432.96" r="3.1" fill="#000" fill-opacity="0.31"/>
<circle cx="133.96" cy="438.22" r="3.1" fill="#000" fill-opacity="0.31"/>
<circle cx="122.23" cy="434.39" r="3.1" fill="#228B22" fill-opacity="0.4"/>
<circle cx="132.05" cy="430.80" r="3.1" fill="#228B22" fill-opacity="0.4"/>
<circle cx="134.20" cy="415.48" r="3.1" fill="#228B22" fill-opacity="0.4"/>
<circle cx="174.18" cy="384.10" r="3.1" fill="#228B22" fill-opacity="0.4"/>
<g stroke="#000" stroke-width="1.4" fill="none"><path d="M34.16,491.72v-3.39"/><path d="M27.15,470.07h4.62"/><path d="M37.24,491.72v-3.39"/><path d="M27.15,482.28h4.62"/><path d="M47.53,491.72v-3.39"/><path d="M27.15,485.15h4.62"/><path d="M50.88,491.72v-3.39"/><path d="M27.15,486.35h4.62"/><path d="M57.35,491.72v-3.39"/><path d="M27.15,480.60h4.62"/><path d="M66.93,491.72v-3.39"/><path d="M27.15,465.04h4.62"/><path d="M76.02,491.72v-3.39"/><path d="M27.15,447.80h4.62"/><path d="M76.74,491.72v-3.39"/><path d="M27.15,477.01h4.62"/><path d="M81.29,491.72v-3.39"/><path d="M27.15,476.53h4.62"/><path d="M91.35,491.72v-3.39"/><path d="M27.15,444.93h4.62"/><path d="M93.26,491.72v-3.39"/><path d="M27.15,465.04h4.62"/><path d="M100.68,491.72v-3.39"/><path d="M27.15,439.18h4.62"/><path d="M107.87,491.72v-3.39"/><path d="M27.15,438.46h4.62"/><path d="M111.46,491.72v-3.39"/><path d="M27.15,441.34h4.62"/><path d="M112.65,491.72v-3.39"/><path d="M27.15,432.96h4.62"/><path d="M133.96,491.72v-3.39"/><path d="M27.15,438.22h4.62"/></g>
<g stroke="#228B22" stroke-width="1.4" fill="none"><path d="M122.23,491.72v-3.39"/><path d="M27.15,434.39h4.62"/><path d="M132.05,491.72v-3.39"/><path d="M27.15,430.80h4.62"/><path d="M134.20,491.72v-3.39"/><path d="M27.15,415.48h4.62"/><path d="M174.18,491.72v-3.39"/><path d="M27.15,384.10h4.62"/></g>
</g>
<path d="M27.15,378.84h154.15v112.88h-154.15z M27.86,379.79v110.98h152.73v-110.98z" fill="#333333" fill-rule="evenodd"/>
<g clip-path="url(#cp31)">
<path d="M219.52,378.84v112.88M266.70,378.84v112.88M313.88,378.84v112.88M187.97,488.03h154.15M187.97,463.23h154.15M187.97,438.43h154.15M187.97,413.63h154.15M187.97,388.83h154.15" stroke="#EBEBEB" stroke-width="0.71" fill="none"/>
<path d="M195.93,378.84v112.88M243.11,378.84v112.88M290.29,378.84v112.88M337.47,378.84v112.88M187.97,475.63h154.15M187.97,450.83h154.15M187.97,426.03h154.15M187.97,401.23h154.15" stroke="#EBEBEB" stroke-width="1.42" fill="none"/>
<circle cx="209.37" cy="470.07" r="3.1" fill="#000" fill-opacity="0.31"/>
<circle cx="194.98" cy="482.28" r="3.1" fill="#000" fill-opacity="0.31"/>
<circle cx="211.33" cy="485.15" r="3.1" fill="#000" fill-opacity="0.31"/>
<circle cx="196.29" cy="486.35" r="3.1" fill="#000" fill-opacity="0.31"/>
<circle cx="200.21" cy="480.60" r="3.1" fill="#000" fill-opacity="0.31"/>
<circle cx="243.04" cy="465.04" r="3.1" fill="#000" fill-opacity="0.31"/>
<circle cx="240.43" cy="447.80" r="3.1" fill="#000" fill-opacity="0.31"/>
<circle cx="195.96" cy="477.01" r="3.1" fill="#000" fill-opacity="0.31"/>
<circle cx="211.65" cy="476.53" r="3.1" fill="#000" fill-opacity="0.31"/>
<circle cx="260.04" cy="444.93" r="3.1" fill="#000" fill-opacity="0.31"/>
<circle cx="215.25" cy="465.04" r="3.1" fill="#000" fill-opacity="0.31"/>
<circle cx="259.39" cy="439.18" r="3.1" fill="#000" fill-opacity="0.31"/>
<circle cx="270.50" cy="438.46" r="3.1" fill="#000" fill-opacity="0.31"/>
<circle cx="241.08" cy="441.34" r="3.1" fill="#000" fill-opacity="0.31"/>
<circle cx="262.66" cy="430.80" r="3.1" fill="#000" fill-opacity="0.31"/>
<circle cx="256.77" cy="438.22" r="3.1" fill="#000" fill-opacity="0.31"/>
<circle cx="263.31" cy="432.96" r="3.1" fill="#228B22" fill-opacity="0.4"/>
<circle cx="273.45" cy="434.39" r="3.1" fill="#228B22" fill-opacity="0.4"/>
<circle cx="294.37" cy="415.48" r="3.1" fill="#228B22" fill-opacity="0.4"/>
<circle cx="335.08" cy="384.10" r="3.1" fill="#228B22" fill-opacity="0.4"/>
<g stroke="#000" stroke-width="1.4" fill="none"><path d="M209.37,491.72v-3.39"/><path d="M187.97,470.07h4.62"/><path d="M194.98,491.72v-3.39"/><path d="M187.97,482.28h4.62"/><path d="M211.33,491.72v-3.39"/><path d="M187.97,485.15h4.62"/><path d="M196.29,491.72v-3.39"/><path d="M187.97,486.35h4.62"/><path d="M200.21,491.72v-3.39"/><path d="M187.97,480.60h4.62"/><path d="M243.04,491.72v-3.39"/><path d="M187.97,465.04h4.62"/><path d="M240.43,491.72v-3.39"/><path d="M187.97,447.80h4.62"/><path d="M195.96,491.72v-3.39"/><path d="M187.97,477.01h4.62"/><path d="M211.65,491.72v-3.39"/><path d="M187.97,476.53h4.62"/><path d="M260.04,491.72v-3.39"/><path d="M187.97,444.93h4.62"/><path d="M215.25,491.72v-3.39"/><path d="M187.97,465.04h4.62"/><path d="M259.39,491.72v-3.39"/><path d="M187.97,439.18h4.62"/><path d="M270.50,491.72v-3.39"/><path d="M187.97,438.46h4.62"/><path d="M241.08,491.72v-3.39"/><path d="M187.97,441.34h4.62"/><path d="M262.66,491.72v-3.39"/><path d="M187.97,430.80h4.62"/><path d="M256.77,491.72v-3.39"/><path d="M187.97,438.22h4.62"/></g>
<g stroke="#228B22" stroke-width="1.4" fill="none"><path d="M263.31,491.72v-3.39"/><path d="M187.97,432.96h4.62"/><path d="M273.45,491.72v-3.39"/><path d="M187.97,434.39h4.62"/><path d="M294.37,491.72v-3.39"/><path d="M187.97,415.48h4.62"/><path d="M335.08,491.72v-3.39"/><path d="M187.97,384.10h4.62"/></g>
</g>
<path d="M187.97,378.84h154.15v112.88h-154.15z M188.68,379.79v110.98h152.73v-110.98z" fill="#333333" fill-rule="evenodd"/>
<g clip-path="url(#cp32)">
<path d="M353.28,378.84v112.88M385.57,378.84v112.88M417.87,378.84v112.88M450.17,378.84v112.88M482.47,378.84v112.88M348.79,488.03h154.15M348.79,463.23h154.15M348.79,438.43h154.15M348.79,413.63h154.15M348.79,388.83h154.15" stroke="#EBEBEB" stroke-width="0.71" fill="none"/>
<path d="M369.43,378.84v112.88M401.72,378.84v112.88M434.02,378.84v112.88M466.32,378.84v112.88M498.61,378.84v112.88M348.79,475.63h154.15M348.79,450.83h154.15M348.79,426.03h154.15M348.79,401.23h154.15" stroke="#EBEBEB" stroke-width="1.42" fill="none"/>
<circle cx="477.43" cy="470.07" r="3.1" fill="#000" fill-opacity="0.31"/>
<circle cx="484.90" cy="482.28" r="3.1" fill="#000" fill-opacity="0.31"/>
<circle cx="432.97" cy="485.15" r="3.1" fill="#000" fill-opacity="0.31"/>
<circle cx="469.91" cy="486.35" r="3.1" fill="#000" fill-opacity="0.31"/>
<circle cx="474.16" cy="480.60" r="3.1" fill="#000" fill-opacity="0.31"/>
<circle cx="397.66" cy="465.04" r="3.1" fill="#000" fill-opacity="0.31"/>
<circle cx="449.97" cy="447.80" r="3.1" fill="#000" fill-opacity="0.31"/>
<circle cx="495.69" cy="477.01" r="3.1" fill="#000" fill-opacity="0.31"/>
<circle cx="454.55" cy="476.53" r="3.1" fill="#000" fill-opacity="0.31"/>
<circle cx="403.21" cy="444.93" r="3.1" fill="#000" fill-opacity="0.31"/>
<circle cx="474.16" cy="465.04" r="3.1" fill="#000" fill-opacity="0.31"/>
<circle cx="419.56" cy="439.18" r="3.1" fill="#000" fill-opacity="0.31"/>
<circle cx="391.77" cy="438.46" r="3.1" fill="#000" fill-opacity="0.31"/>
<circle cx="465.01" cy="441.34" r="3.1" fill="#000" fill-opacity="0.31"/>
<circle cx="426.75" cy="432.96" r="3.1" fill="#000" fill-opacity="0.31"/>
<circle cx="393.08" cy="434.39" r="3.1" fill="#000" fill-opacity="0.31"/>
<circle cx="431.99" cy="430.80" r="3.1" fill="#000" fill-opacity="0.31"/>
<circle cx="430.02" cy="438.22" r="3.1" fill="#000" fill-opacity="0.31"/>
<circle cx="384.91" cy="415.48" r="3.1" fill="#000" fill-opacity="0.31"/>
<circle cx="356.13" cy="384.10" r="3.1" fill="#000" fill-opacity="0.31"/>
<g stroke="#000" stroke-width="1.4" fill="none"><path d="M477.43,491.72v-3.39"/><path d="M348.79,470.07h4.62"/><path d="M484.90,491.72v-3.39"/><path d="M348.79,482.28h4.62"/><path d="M432.97,491.72v-3.39"/><path d="M348.79,485.15h4.62"/><path d="M469.91,491.72v-3.39"/><path d="M348.79,486.35h4.62"/><path d="M474.16,491.72v-3.39"/><path d="M348.79,480.60h4.62"/><path d="M397.66,491.72v-3.39"/><path d="M348.79,465.04h4.62"/><path d="M449.97,491.72v-3.39"/><path d="M348.79,447.80h4.62"/><path d="M495.69,491.72v-3.39"/><path d="M348.79,477.01h4.62"/><path d="M454.55,491.72v-3.39"/><path d="M348.79,476.53h4.62"/><path d="M403.21,491.72v-3.39"/><path d="M348.79,444.93h4.62"/><path d="M474.16,491.72v-3.39"/><path d="M348.79,465.04h4.62"/><path d="M419.56,491.72v-3.39"/><path d="M348.79,439.18h4.62"/><path d="M391.77,491.72v-3.39"/><path d="M348.79,438.46h4.62"/><path d="M465.01,491.72v-3.39"/><path d="M348.79,441.34h4.62"/><path d="M426.75,491.72v-3.39"/><path d="M348.79,432.96h4.62"/><path d="M393.08,491.72v-3.39"/><path d="M348.79,434.39h4.62"/><path d="M431.99,491.72v-3.39"/><path d="M348.79,430.80h4.62"/><path d="M430.02,491.72v-3.39"/><path d="M348.79,438.22h4.62"/><path d="M384.91,491.72v-3.39"/><path d="M348.79,415.48h4.62"/><path d="M356.13,491.72v-3.39"/><path d="M348.79,384.10h4.62"/></g>
</g>
<path d="M348.79,378.84h154.15v112.88h-154.15z M349.50,379.79v110.98h152.73v-110.98z" fill="#333333" fill-rule="evenodd"/>
<g clip-path="url(#cp33)">
<path d="M514.65,378.84v112.88M548.52,378.84v112.88M582.38,378.84v112.88M616.25,378.84v112.88M650.12,378.84v112.88M509.61,467.72h154.15M509.61,429.98h154.15M509.61,392.24h154.15" stroke="#EBEBEB" stroke-width="0.71" fill="none"/>
<path d="M531.58,378.84v112.88M565.45,378.84v112.88M599.32,378.84v112.88M633.18,378.84v112.88M509.61,486.59h154.15M509.61,448.85h154.15M509.61,411.11h154.15" stroke="#EBEBEB" stroke-width="1.42" fill="none"/>
<polygon points="516.62,430.86 517.44,429.05 518.26,427.32 519.08,425.69 519.91,424.15 520.73,422.73 521.55,421.42 522.38,420.23 523.20,419.16 524.02,418.23 524.84,417.43 525.67,416.76 526.49,416.23 527.31,415.83 528.13,415.56 528.96,415.43 529.78,415.42 530.60,415.54 531.43,415.78 532.25,416.14 533.07,416.60 533.89,417.17 534.72,417.84 535.54,418.59 536.36,419.42 537.18,420.33 538.01,421.30 538.83,422.32 539.65,423.39 540.48,424.50 541.30,425.63 542.12,426.77 542.94,427.92 543.77,429.07 544.59,430.20 545.41,431.30 546.23,432.37 547.06,433.39 547.88,434.36 548.70,435.25 549.53,436.08 550.35,436.81 551.17,437.46 551.99,438.00 552.82,438.43 553.64,438.74 554.46,438.93 555.28,438.99 556.11,438.93 556.93,438.72 557.75,438.38 558.58,437.91 559.40,437.30 560.22,436.55 561.04,435.68 561.87,434.68 562.69,433.57 563.51,432.34 564.33,431.02 565.16,429.60 565.98,428.11 566.80,426.55 567.63,424.94 568.45,423.30 569.27,421.63 570.09,419.96 570.92,418.31 571.74,416.68 572.56,415.11 573.38,413.59 574.21,412.16 575.03,410.82 575.85,409.59 576.68,408.49 577.50,407.53 578.32,406.72 579.14,406.08 579.97,405.60 580.79,405.31 581.61,405.21 582.43,405.29 583.26,405.57 584.08,406.04 584.90,406.71 585.73,407.57 586.55,408.62 587.37,409.85 588.19,411.25 589.02,412.82 589.84,414.54 590.66,416.41 591.48,418.41 592.31,420.53 593.13,422.75 593.95,425.07 594.78,427.46 595.60,429.91 596.42,432.41 597.24,434.94 598.07,437.48 598.89,440.03 599.71,442.57 600.53,445.09 601.36,447.57 602.18,450.00 603.00,452.38 603.82,454.70 604.65,456.94 605.47,459.10 606.29,461.18 607.12,463.17 607.94,465.06 608.76,466.86 609.58,468.56 610.41,470.16 611.23,471.66 612.05,473.07 612.87,474.37 613.70,475.59 614.52,476.71 615.34,477.74 616.17,478.69 616.99,479.56 617.81,480.35 618.63,481.07 619.46,481.72 620.28,482.31 621.10,482.83 621.92,483.31 622.75,483.73 623.57,484.10 624.39,484.44 625.22,484.73 626.04,484.99 626.86,485.21 627.68,485.41 628.51,485.59 629.33,485.74 630.15,485.87 630.97,485.98 631.80,486.07 632.62,486.16 633.44,486.23 634.27,486.29 635.09,486.34 635.91,486.38 636.73,486.42 637.56,486.45 638.38,486.47 639.20,486.49 640.02,486.51 640.85,486.53 641.67,486.54 642.49,486.55 643.32,486.56 644.14,486.56 644.96,486.57 645.78,486.57 646.61,486.58 647.43,486.58 648.25,486.58 649.07,486.58 649.90,486.58 650.72,486.58 651.54,486.59 652.37,486.59 653.19,486.59 654.01,486.59 654.83,486.59 655.66,486.59 656.48,486.59 656.75,486.59 656.75,486.59 516.62,486.59" fill="#000" fill-opacity="0.3"/>
<polyline points="516.62,430.86 517.44,429.05 518.26,427.32 519.08,425.69 519.91,424.15 520.73,422.73 521.55,421.42 522.38,420.23 523.20,419.16 524.02,418.23 524.84,417.43 525.67,416.76 526.49,416.23 527.31,415.83 528.13,415.56 528.96,415.43 529.78,415.42 530.60,415.54 531.43,415.78 532.25,416.14 533.07,416.60 533.89,417.17 534.72,417.84 535.54,418.59 536.36,419.42 537.18,420.33 538.01,421.30 538.83,422.32 539.65,423.39 540.48,424.50 541.30,425.63 542.12,426.77 542.94,427.92 543.77,429.07 544.59,430.20 545.41,431.30 546.23,432.37 547.06,433.39 547.88,434.36 548.70,435.25 549.53,436.08 550.35,436.81 551.17,437.46 551.99,438.00 552.82,438.43 553.64,438.74 554.46,438.93 555.28,438.99 556.11,438.93 556.93,438.72 557.75,438.38 558.58,437.91 559.40,437.30 560.22,436.55 561.04,435.68 561.87,434.68 562.69,433.57 563.51,432.34 564.33,431.02 565.16,429.60 565.98,428.11 566.80,426.55 567.63,424.94 568.45,423.30 569.27,421.63 570.09,419.96 570.92,418.31 571.74,416.68 572.56,415.11 573.38,413.59 574.21,412.16 575.03,410.82 575.85,409.59 576.68,408.49 577.50,407.53 578.32,406.72 579.14,406.08 579.97,405.60 580.79,405.31 581.61,405.21 582.43,405.29 583.26,405.57 584.08,406.04 584.90,406.71 585.73,407.57 586.55,408.62 587.37,409.85 588.19,411.25 589.02,412.82 589.84,414.54 590.66,416.41 591.48,418.41 592.31,420.53 593.13,422.75 593.95,425.07 594.78,427.46 595.60,429.91 596.42,432.41 597.24,434.94 598.07,437.48 598.89,440.03 599.71,442.57 600.53,445.09 601.36,447.57 602.18,450.00 603.00,452.38 603.82,454.70 604.65,456.94 605.47,459.10 606.29,461.18 607.12,463.17 607.94,465.06 608.76,466.86 609.58,468.56 610.41,470.16 611.23,471.66 612.05,473.07 612.87,474.37 613.70,475.59 614.52,476.71 615.34,477.74 616.17,478.69 616.99,479.56 617.81,480.35 618.63,481.07 619.46,481.72 620.28,482.31 621.10,482.83 621.92,483.31 622.75,483.73 623.57,484.10 624.39,484.44 625.22,484.73 626.04,484.99 626.86,485.21 627.68,485.41 628.51,485.59 629.33,485.74 630.15,485.87 630.97,485.98 631.80,486.07 632.62,486.16 633.44,486.23 634.27,486.29 635.09,486.34 635.91,486.38 636.73,486.42 637.56,486.45 638.38,486.47 639.20,486.49 640.02,486.51 640.85,486.53 641.67,486.54 642.49,486.55 643.32,486.56 644.14,486.56 644.96,486.57 645.78,486.57 646.61,486.58 647.43,486.58 648.25,486.58 649.07,486.58 649.90,486.58 650.72,486.58 651.54,486.59 652.37,486.59 653.19,486.59 654.01,486.59 654.83,486.59 655.66,486.59 656.48,486.59 656.75,486.59" fill="none" stroke="#000" stroke-width="1.42" stroke-linejoin="round"/>
<polygon points="516.62,486.59 517.44,486.59 518.26,486.59 519.08,486.59 519.91,486.59 520.73,486.59 521.55,486.59 522.38,486.59 523.20,486.59 524.02,486.59 524.84,486.59 525.67,486.59 526.49,486.59 527.31,486.59 528.13,486.59 528.96,486.59 529.78,486.59 530.60,486.59 531.43,486.59 532.25,486.59 533.07,486.59 533.89,486.59 534.72,486.59 535.54,486.59 536.36,486.59 537.18,486.59 538.01,486.59 538.83,486.59 539.65,486.59 540.48,486.59 541.30,486.59 542.12,486.59 542.94,486.59 543.77,486.59 544.59,486.59 545.41,486.59 546.23,486.59 547.06,486.59 547.88,486.59 548.70,486.59 549.53,486.59 550.35,486.59 551.17,486.59 551.99,486.59 552.82,486.59 553.64,486.59 554.46,486.59 555.28,486.59 556.11,486.59 556.93,486.59 557.75,486.58 558.58,486.58 559.40,486.58 560.22,486.58 561.04,486.57 561.87,486.57 562.69,486.56 563.51,486.56 564.33,486.55 565.16,486.53 565.98,486.52 566.80,486.50 567.63,486.47 568.45,486.44 569.27,486.40 570.09,486.35 570.92,486.29 571.74,486.22 572.56,486.13 573.38,486.02 574.21,485.88 575.03,485.72 575.85,485.53 576.68,485.30 577.50,485.03 578.32,484.70 579.14,484.32 579.97,483.88 580.79,483.36 581.61,482.76 582.43,482.07 583.26,481.27 584.08,480.37 584.90,479.34 585.73,478.17 586.55,476.86 587.37,475.40 588.19,473.77 589.02,471.96 589.84,469.97 590.66,467.80 591.48,465.43 592.31,462.86 593.13,460.10 593.95,457.14 594.78,454.00 595.60,450.67 596.42,447.18 597.24,443.53 598.07,439.74 598.89,435.84 599.71,431.86 600.53,427.81 601.36,423.74 602.18,419.67 603.00,415.64 603.82,411.70 604.65,407.88 605.47,404.22 606.29,400.75 607.12,397.52 607.94,394.57 608.76,391.93 609.58,389.62 610.41,387.68 611.23,386.14 612.05,384.99 612.87,384.27 613.70,383.98 614.52,384.11 615.34,384.66 616.17,385.63 616.99,386.99 617.81,388.72 618.63,390.79 619.46,393.16 620.28,395.81 621.10,398.70 621.92,401.76 622.75,404.97 623.57,408.27 624.39,411.61 625.22,414.94 626.04,418.22 626.86,421.39 627.68,424.42 628.51,427.26 629.33,429.87 630.15,432.21 630.97,434.26 631.80,435.97 632.62,437.34 633.44,438.34 634.27,438.96 635.09,439.18 635.91,439.02 636.73,438.46 637.56,437.52 638.38,436.21 639.20,434.55 640.02,432.55 640.85,430.26 641.67,427.69 642.49,424.88 643.32,421.88 644.14,418.73 644.96,415.46 645.78,412.13 646.61,408.79 647.43,405.48 648.25,402.26 649.07,399.17 649.90,396.25 650.72,393.56 651.54,391.14 652.37,389.02 653.19,387.24 654.01,385.82 654.83,384.79 655.66,384.17 656.48,383.97 656.75,384.00 656.75,486.59 516.62,486.59" fill="#228B22" fill-opacity="0.3"/>
<polyline points="516.62,486.59 517.44,486.59 518.26,486.59 519.08,486.59 519.91,486.59 520.73,486.59 521.55,486.59 522.38,486.59 523.20,486.59 524.02,486.59 524.84,486.59 525.67,486.59 526.49,486.59 527.31,486.59 528.13,486.59 528.96,486.59 529.78,486.59 530.60,486.59 531.43,486.59 532.25,486.59 533.07,486.59 533.89,486.59 534.72,486.59 535.54,486.59 536.36,486.59 537.18,486.59 538.01,486.59 538.83,486.59 539.65,486.59 540.48,486.59 541.30,486.59 542.12,486.59 542.94,486.59 543.77,486.59 544.59,486.59 545.41,486.59 546.23,486.59 547.06,486.59 547.88,486.59 548.70,486.59 549.53,486.59 550.35,486.59 551.17,486.59 551.99,486.59 552.82,486.59 553.64,486.59 554.46,486.59 555.28,486.59 556.11,486.59 556.93,486.59 557.75,486.58 558.58,486.58 559.40,486.58 560.22,486.58 561.04,486.57 561.87,486.57 562.69,486.56 563.51,486.56 564.33,486.55 565.16,486.53 565.98,486.52 566.80,486.50 567.63,486.47 568.45,486.44 569.27,486.40 570.09,486.35 570.92,486.29 571.74,486.22 572.56,486.13 573.38,486.02 574.21,485.88 575.03,485.72 575.85,485.53 576.68,485.30 577.50,485.03 578.32,484.70 579.14,484.32 579.97,483.88 580.79,483.36 581.61,482.76 582.43,482.07 583.26,481.27 584.08,480.37 584.90,479.34 585.73,478.17 586.55,476.86 587.37,475.40 588.19,473.77 589.02,471.96 589.84,469.97 590.66,467.80 591.48,465.43 592.31,462.86 593.13,460.10 593.95,457.14 594.78,454.00 595.60,450.67 596.42,447.18 597.24,443.53 598.07,439.74 598.89,435.84 599.71,431.86 600.53,427.81 601.36,423.74 602.18,419.67 603.00,415.64 603.82,411.70 604.65,407.88 605.47,404.22 606.29,400.75 607.12,397.52 607.94,394.57 608.76,391.93 609.58,389.62 610.41,387.68 611.23,386.14 612.05,384.99 612.87,384.27 613.70,383.98 614.52,384.11 615.34,384.66 616.17,385.63 616.99,386.99 617.81,388.72 618.63,390.79 619.46,393.16 620.28,395.81 621.10,398.70 621.92,401.76 622.75,404.97 623.57,408.27 624.39,411.61 625.22,414.94 626.04,418.22 626.86,421.39 627.68,424.42 628.51,427.26 629.33,429.87 630.15,432.21 630.97,434.26 631.80,435.97 632.62,437.34 633.44,438.34 634.27,438.96 635.09,439.18 635.91,439.02 636.73,438.46 637.56,437.52 638.38,436.21 639.20,434.55 640.02,432.55 640.85,430.26 641.67,427.69 642.49,424.88 643.32,421.88 644.14,418.73 644.96,415.46 645.78,412.13 646.61,408.79 647.43,405.48 648.25,402.26 649.07,399.17 649.90,396.25 650.72,393.56 651.54,391.14 652.37,389.02 653.19,387.24 654.01,385.82 654.83,384.79 655.66,384.17 656.48,383.97 656.75,384.00" fill="none" stroke="#228B22" stroke-width="1.42" stroke-linejoin="round"/>
</g>
<path d="M509.61,378.84h154.15v112.88h-154.15z M510.32,379.79v110.98h152.73v-110.98z" fill="#333333" fill-rule="evenodd"/>
<text transform="translate(265.05,76.44) scale(1.058,1)" text-anchor="middle" font-size="10.3" fill="#000">Rank corr.: 0.85</text>
<text transform="translate(265.05,91.29) scale(1.055,1)" text-anchor="middle" font-size="10.3" font-weight="bold" fill="#228B22">Coinc.: 60%</text>
<text transform="translate(425.86,76.44) scale(1.058,1)" text-anchor="middle" font-size="10.3" fill="#000">Rank corr.: −0.678</text>
<text transform="translate(425.86,91.29) scale(1.055,1)" text-anchor="middle" font-size="10.3" font-weight="bold" fill="#228B22">Coinc.: 0%</text>
<text transform="translate(586.68,76.44) scale(1.058,1)" text-anchor="middle" font-size="10.3" fill="#000">Rank corr.: 0.922</text>
<text transform="translate(586.68,91.29) scale(1.055,1)" text-anchor="middle" font-size="10.3" font-weight="bold" fill="#228B22">Coinc.: 80%</text>
<text transform="translate(425.86,195.77) scale(1.058,1)" text-anchor="middle" font-size="10.3" fill="#000">Rank corr.: −0.922</text>
<text transform="translate(425.86,210.62) scale(1.055,1)" text-anchor="middle" font-size="10.3" font-weight="bold" fill="#228B22">Coinc.: 0%</text>
<text transform="translate(586.68,195.77) scale(1.058,1)" text-anchor="middle" font-size="10.3" fill="#000">Rank corr.: 0.929</text>
<text transform="translate(586.68,210.62) scale(1.055,1)" text-anchor="middle" font-size="10.3" font-weight="bold" fill="#228B22">Coinc.: 80%</text>
<text transform="translate(586.68,315.10) scale(1.058,1)" text-anchor="middle" font-size="10.3" fill="#000">Rank corr.: −0.744</text>
<text transform="translate(586.68,329.95) scale(1.055,1)" text-anchor="middle" font-size="10.3" font-weight="bold" fill="#228B22">Coinc.: 0%</text>
<defs>
<clipPath id="sc0"><rect x="27.150" y="0.200" width="154.150" height="20.650"/></clipPath>
<clipPath id="sc1"><rect x="187.970" y="0.200" width="154.150" height="20.650"/></clipPath>
<clipPath id="sc2"><rect x="348.790" y="0.200" width="154.150" height="20.650"/></clipPath>
<clipPath id="sc3"><rect x="509.610" y="0.200" width="154.150" height="20.650"/></clipPath>
<clipPath id="sr0"><rect x="663.760" y="20.850" width="20.940" height="112.880"/></clipPath>
<clipPath id="sr1"><rect x="663.760" y="140.180" width="20.940" height="112.880"/></clipPath>
<clipPath id="sr2"><rect x="663.760" y="259.510" width="20.940" height="112.880"/></clipPath>
<clipPath id="sr3"><rect x="663.760" y="378.840" width="20.940" height="112.880"/></clipPath>
</defs>
<rect x="27.15" y="0.20" width="154.15" height="20.65" fill="#D9D9D9"/>
<path d="M27.15,0.20h154.15v20.65h-154.15z M27.86,1.15v18.75h152.73v-18.75z" fill="#333333" fill-rule="evenodd"/>
<text transform="translate(104.22,14.80) scale(0.927,1)" text-anchor="middle" font-size="11.73" fill="#1A1A1A">TMM</text>
<rect x="187.97" y="0.20" width="154.15" height="20.65" fill="#D9D9D9"/>
<path d="M187.97,0.20h154.15v20.65h-154.15z M188.68,1.15v18.75h152.73v-18.75z" fill="#333333" fill-rule="evenodd"/>
<text transform="translate(265.05,14.80) scale(0.927,1)" text-anchor="middle" font-size="11.73" fill="#1A1A1A">CMM.DGE</text>
<rect x="348.79" y="0.20" width="154.15" height="20.65" fill="#D9D9D9"/>
<path d="M348.79,0.20h154.15v20.65h-154.15z M349.50,1.15v18.75h152.73v-18.75z" fill="#333333" fill-rule="evenodd"/>
<text transform="translate(425.86,14.80) scale(0.927,1)" text-anchor="middle" font-size="11.73" fill="#1A1A1A">CMM.IGE</text>
<rect x="509.61" y="0.20" width="154.15" height="20.65" fill="#D9D9D9"/>
<path d="M509.61,0.20h154.15v20.65h-154.15z M510.32,1.15v18.75h152.73v-18.75z" fill="#333333" fill-rule="evenodd"/>
<text transform="translate(586.68,14.80) scale(0.927,1)" text-anchor="middle" font-size="11.73" fill="#1A1A1A">CMM.TGV</text>
<rect x="663.76" y="20.85" width="20.94" height="112.88" fill="#D9D9D9"/>
<path d="M663.76,20.85h20.94v112.88h-20.94z M664.47,21.80v110.98h19.52v-110.98z" fill="#333333" fill-rule="evenodd"/>
<text transform="translate(670.70,77.29) rotate(90) scale(0.927,1)" text-anchor="middle" font-size="11.73" fill="#1A1A1A">TMM</text>
<rect x="663.76" y="140.18" width="20.94" height="112.88" fill="#D9D9D9"/>
<path d="M663.76,140.18h20.94v112.88h-20.94z M664.47,141.13v110.98h19.52v-110.98z" fill="#333333" fill-rule="evenodd"/>
<text transform="translate(670.70,196.62) rotate(90) scale(0.927,1)" text-anchor="middle" font-size="11.73" fill="#1A1A1A">CMM.DGE</text>
<rect x="663.76" y="259.51" width="20.94" height="112.88" fill="#D9D9D9"/>
<path d="M663.76,259.51h20.94v112.88h-20.94z M664.47,260.46v110.98h19.52v-110.98z" fill="#333333" fill-rule="evenodd"/>
<text transform="translate(670.70,315.95) rotate(90) scale(0.927,1)" text-anchor="middle" font-size="11.73" fill="#1A1A1A">CMM.IGE</text>
<rect x="663.76" y="378.84" width="20.94" height="112.88" fill="#D9D9D9"/>
<path d="M663.76,378.84h20.94v112.88h-20.94z M664.47,379.79v110.98h19.52v-110.98z" fill="#333333" fill-rule="evenodd"/>
<text transform="translate(670.70,435.28) rotate(90) scale(0.927,1)" text-anchor="middle" font-size="11.73" fill="#1A1A1A">CMM.TGV</text>
<line x1="37.70" x2="37.70" y1="491.72" y2="495.02" stroke="#333333" stroke-width="1.07"/>
<text transform="translate(37.70,505.60) scale(0.92,1)" text-anchor="middle" font-size="11.73" fill="#4D4D4D">−2</text>
<line x1="64.83" x2="64.83" y1="491.72" y2="495.02" stroke="#333333" stroke-width="1.07"/>
<text transform="translate(64.83,505.60) scale(0.92,1)" text-anchor="middle" font-size="11.73" fill="#4D4D4D">−1</text>
<line x1="91.96" x2="91.96" y1="491.72" y2="495.02" stroke="#333333" stroke-width="1.07"/>
<text transform="translate(91.96,505.60) scale(0.92,1)" text-anchor="middle" font-size="11.73" fill="#4D4D4D">0</text>
<line x1="119.09" x2="119.09" y1="491.72" y2="495.02" stroke="#333333" stroke-width="1.07"/>
<text transform="translate(119.09,505.60) scale(0.92,1)" text-anchor="middle" font-size="11.73" fill="#4D4D4D">1</text>
<line x1="146.21" x2="146.21" y1="491.72" y2="495.02" stroke="#333333" stroke-width="1.07"/>
<text transform="translate(146.21,505.60) scale(0.92,1)" text-anchor="middle" font-size="11.73" fill="#4D4D4D">2</text>
<line x1="173.34" x2="173.34" y1="491.72" y2="495.02" stroke="#333333" stroke-width="1.07"/>
<text transform="translate(173.34,505.60) scale(0.92,1)" text-anchor="middle" font-size="11.73" fill="#4D4D4D">3</text>
<line x1="195.93" x2="195.93" y1="491.72" y2="495.02" stroke="#333333" stroke-width="1.07"/>
<text transform="translate(195.93,505.60) scale(0.92,1)" text-anchor="middle" font-size="11.73" fill="#4D4D4D">−2</text>
<line x1="243.11" x2="243.11" y1="491.72" y2="495.02" stroke="#333333" stroke-width="1.07"/>
<text transform="translate(243.11,505.60) scale(0.92,1)" text-anchor="middle" font-size="11.73" fill="#4D4D4D">0</text>
<line x1="290.29" x2="290.29" y1="491.72" y2="495.02" stroke="#333333" stroke-width="1.07"/>
<text transform="translate(290.29,505.60) scale(0.92,1)" text-anchor="middle" font-size="11.73" fill="#4D4D4D">2</text>
<line x1="337.47" x2="337.47" y1="491.72" y2="495.02" stroke="#333333" stroke-width="1.07"/>
<text transform="translate(337.47,505.60) scale(0.92,1)" text-anchor="middle" font-size="11.73" fill="#4D4D4D">4</text>
<line x1="369.43" x2="369.43" y1="491.72" y2="495.02" stroke="#333333" stroke-width="1.07"/>
<text transform="translate(369.43,505.60) scale(0.92,1)" text-anchor="middle" font-size="11.73" fill="#4D4D4D">−1.0</text>
<line x1="401.72" x2="401.72" y1="491.72" y2="495.02" stroke="#333333" stroke-width="1.07"/>
<text transform="translate(401.72,505.60) scale(0.92,1)" text-anchor="middle" font-size="11.73" fill="#4D4D4D">−0.5</text>
<line x1="434.02" x2="434.02" y1="491.72" y2="495.02" stroke="#333333" stroke-width="1.07"/>
<text transform="translate(434.02,505.60) scale(0.92,1)" text-anchor="middle" font-size="11.73" fill="#4D4D4D">0.0</text>
<line x1="466.32" x2="466.32" y1="491.72" y2="495.02" stroke="#333333" stroke-width="1.07"/>
<text transform="translate(466.32,505.60) scale(0.92,1)" text-anchor="middle" font-size="11.73" fill="#4D4D4D">0.5</text>
<line x1="498.61" x2="498.61" y1="491.72" y2="495.02" stroke="#333333" stroke-width="1.07"/>
<text transform="translate(498.61,505.60) scale(0.92,1)" text-anchor="middle" font-size="11.73" fill="#4D4D4D">1.0</text>
<line x1="531.58" x2="531.58" y1="491.72" y2="495.02" stroke="#333333" stroke-width="1.07"/>
<text transform="translate(531.58,505.60) scale(0.92,1)" text-anchor="middle" font-size="11.73" fill="#4D4D4D">−1</text>
<line x1="565.45" x2="565.45" y1="491.72" y2="495.02" stroke="#333333" stroke-width="1.07"/>
<text transform="translate(565.45,505.60) scale(0.92,1)" text-anchor="middle" font-size="11.73" fill="#4D4D4D">0</text>
<line x1="599.32" x2="599.32" y1="491.72" y2="495.02" stroke="#333333" stroke-width="1.07"/>
<text transform="translate(599.32,505.60) scale(0.92,1)" text-anchor="middle" font-size="11.73" fill="#4D4D4D">1</text>
<line x1="633.18" x2="633.18" y1="491.72" y2="495.02" stroke="#333333" stroke-width="1.07"/>
<text transform="translate(633.18,505.60) scale(0.92,1)" text-anchor="middle" font-size="11.73" fill="#4D4D4D">2</text>
<line y1="128.60" y2="128.60" x1="23.85" x2="27.15" stroke="#333333" stroke-width="1.07"/>
<text transform="translate(21.00,132.70) scale(0.92,1)" text-anchor="end" font-size="11.73" fill="#4D4D4D">0.0</text>
<line y1="106.52" y2="106.52" x1="23.85" x2="27.15" stroke="#333333" stroke-width="1.07"/>
<text transform="translate(21.00,110.62) scale(0.92,1)" text-anchor="end" font-size="11.73" fill="#4D4D4D">0.1</text>
<line y1="84.45" y2="84.45" x1="23.85" x2="27.15" stroke="#333333" stroke-width="1.07"/>
<text transform="translate(21.00,88.55) scale(0.92,1)" text-anchor="end" font-size="11.73" fill="#4D4D4D">0.2</text>
<line y1="62.38" y2="62.38" x1="23.85" x2="27.15" stroke="#333333" stroke-width="1.07"/>
<text transform="translate(21.00,66.47) scale(0.92,1)" text-anchor="end" font-size="11.73" fill="#4D4D4D">0.3</text>
<line y1="40.30" y2="40.30" x1="23.85" x2="27.15" stroke="#333333" stroke-width="1.07"/>
<text transform="translate(21.00,44.40) scale(0.92,1)" text-anchor="end" font-size="11.73" fill="#4D4D4D">0.4</text>
<line y1="247.23" y2="247.23" x1="23.85" x2="27.15" stroke="#333333" stroke-width="1.07"/>
<text transform="translate(21.00,251.33) scale(0.92,1)" text-anchor="end" font-size="11.73" fill="#4D4D4D">−2</text>
<line y1="212.68" y2="212.68" x1="23.85" x2="27.15" stroke="#333333" stroke-width="1.07"/>
<text transform="translate(21.00,216.78) scale(0.92,1)" text-anchor="end" font-size="11.73" fill="#4D4D4D">0</text>
<line y1="178.14" y2="178.14" x1="23.85" x2="27.15" stroke="#333333" stroke-width="1.07"/>
<text transform="translate(21.00,182.24) scale(0.92,1)" text-anchor="end" font-size="11.73" fill="#4D4D4D">2</text>
<line y1="143.59" y2="143.59" x1="23.85" x2="27.15" stroke="#333333" stroke-width="1.07"/>
<text transform="translate(21.00,147.69) scale(0.92,1)" text-anchor="end" font-size="11.73" fill="#4D4D4D">4</text>
<line y1="357.28" y2="357.28" x1="23.85" x2="27.15" stroke="#333333" stroke-width="1.07"/>
<text transform="translate(21.00,361.38) scale(0.92,1)" text-anchor="end" font-size="11.73" fill="#4D4D4D">−1.0</text>
<line y1="333.63" y2="333.63" x1="23.85" x2="27.15" stroke="#333333" stroke-width="1.07"/>
<text transform="translate(21.00,337.73) scale(0.92,1)" text-anchor="end" font-size="11.73" fill="#4D4D4D">−0.5</text>
<line y1="309.98" y2="309.98" x1="23.85" x2="27.15" stroke="#333333" stroke-width="1.07"/>
<text transform="translate(21.00,314.08) scale(0.92,1)" text-anchor="end" font-size="11.73" fill="#4D4D4D">0.0</text>
<line y1="286.33" y2="286.33" x1="23.85" x2="27.15" stroke="#333333" stroke-width="1.07"/>
<text transform="translate(21.00,290.43) scale(0.92,1)" text-anchor="end" font-size="11.73" fill="#4D4D4D">0.5</text>
<line y1="262.68" y2="262.68" x1="23.85" x2="27.15" stroke="#333333" stroke-width="1.07"/>
<text transform="translate(21.00,266.78) scale(0.92,1)" text-anchor="end" font-size="11.73" fill="#4D4D4D">1.0</text>
<line y1="475.63" y2="475.63" x1="23.85" x2="27.15" stroke="#333333" stroke-width="1.07"/>
<text transform="translate(21.00,479.73) scale(0.92,1)" text-anchor="end" font-size="11.73" fill="#4D4D4D">−1</text>
<line y1="450.83" y2="450.83" x1="23.85" x2="27.15" stroke="#333333" stroke-width="1.07"/>
<text transform="translate(21.00,454.93) scale(0.92,1)" text-anchor="end" font-size="11.73" fill="#4D4D4D">0</text>
<line y1="426.03" y2="426.03" x1="23.85" x2="27.15" stroke="#333333" stroke-width="1.07"/>
<text transform="translate(21.00,430.13) scale(0.92,1)" text-anchor="end" font-size="11.73" fill="#4D4D4D">1</text>
<line y1="401.23" y2="401.23" x1="23.85" x2="27.15" stroke="#333333" stroke-width="1.07"/>
<text transform="translate(21.00,405.33) scale(0.92,1)" text-anchor="end" font-size="11.73" fill="#4D4D4D">2</text>
</svg>
</body></html>
